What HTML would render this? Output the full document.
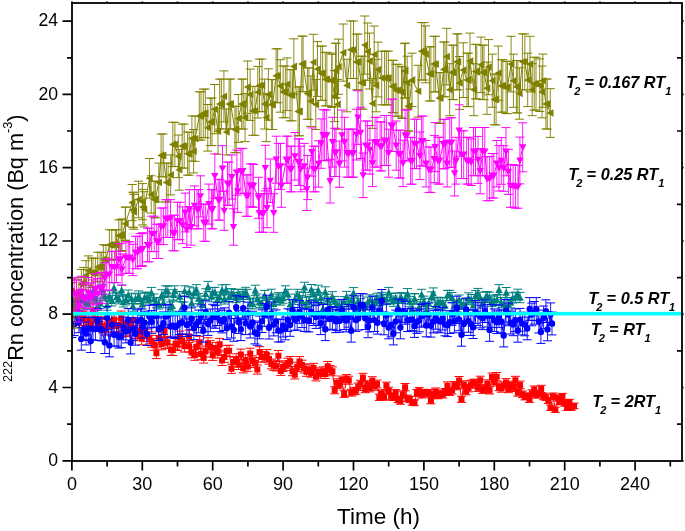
<!DOCTYPE html>
<html><head><meta charset="utf-8"><style>
html,body{margin:0;padding:0;background:#fff;width:685px;height:531px;overflow:hidden}
svg{display:block;will-change:transform;filter:blur(0.35px)}
</style></head><body>
<svg width="685" height="531" viewBox="0 0 685 531">
<rect width="685" height="531" fill="#fff"/>
<defs><clipPath id="pc"><rect x="72" y="3" width="610" height="458"/></clipPath></defs>
<g clip-path="url(#pc)">
<path d="M71.9,282.7V299.6M74.2,308.1V322.6M76.6,298.9V314.3M78.9,308.0V322.6M81.3,311.3V325.5M83.6,311.0V325.2M86.0,321.5V334.8M88.3,313.0V327.0M90.7,317.3V331.0M93.0,302.9V317.9M95.4,313.4V327.4M97.7,316.9V330.6M100.1,316.9V330.6M102.4,319.4V332.8M104.8,321.8V335.1M107.1,318.6V332.2M109.4,314.3V328.3M111.8,318.6V332.1M114.1,312.5V326.6M116.5,319.1V332.6M118.8,318.3V331.9M121.2,311.0V325.2M123.5,317.2V330.8M125.9,323.6V336.7M128.2,322.7V335.9M130.6,319.7V333.1M132.9,313.0V327.1M135.3,325.7V338.5M137.6,328.1V340.7M140.0,324.0V337.0M141.8,332.6V344.8M143.5,323.4V336.5M147.0,329.1V341.6M149.3,331.7V344.0M151.7,335.3V347.2M154.0,338.7V350.3M156.4,347.8V358.6M158.7,331.9V344.1M161.6,338.1V349.8M164.5,324.6V337.6M165.8,336.8V348.6M167.5,336.3V348.1M171.0,344.2V355.3M172.8,344.4V355.5M175.6,337.5V349.2M177.5,338.9V350.5M179.8,331.1V343.4M182.2,334.6V346.6M184.4,340.6V352.0M189.1,330.1V342.6M189.1,340.6V352.0M191.6,347.0V357.8M194.9,349.8V360.3M196.3,341.1V352.5M199.6,336.3V348.1M201.0,348.6V359.3M203.7,352.8V363.1M205.4,346.1V357.0M208.0,337.8V349.5M210.1,340.6V352.0M212.7,349.9V360.4M215.9,342.4V353.7M217.4,347.2V358.0M219.7,338.4V350.1M222.1,355.5V365.5M224.4,351.9V362.3M226.8,345.4V356.4M229.1,345.3V356.3M231.5,364.2V373.4M233.8,357.2V367.0M236.2,353.8V364.0M238.5,359.9V369.5M240.9,349.1V359.8M243.2,363.6V372.9M245.6,354.8V364.9M247.9,361.9V371.3M250.2,348.2V358.9M252.6,355.9V365.9M254.9,357.8V367.6M257.3,365.0V374.1M259.6,346.7V357.6M262.0,351.7V362.1M264.3,351.7V362.1M266.7,349.6V360.2M269.0,353.9V364.1M271.4,359.2V368.9M273.7,360.8V370.3M276.1,361.5V370.9M278.4,350.5V361.0M280.8,366.4V375.4M283.1,362.2V371.6M285.4,360.9V370.4M287.8,358.2V368.0M290.1,356.5V366.5M292.5,366.7V375.7M294.8,370.4V379.0M297.2,362.2V371.5M299.5,356.6V366.6M301.9,360.2V369.7M304.2,363.8V373.0M306.6,367.4V376.3M308.9,364.8V374.0M311.3,368.5V377.2M313.6,363.3V372.6M316.0,372.5V380.9M318.3,367.9V376.7M320.7,369.7V378.3M323.0,366.8V375.7M325.3,369.8V378.5M327.7,361.5V371.0M330.0,365.6V374.6M332.4,366.9V375.8M334.7,386.8V393.8M337.1,378.8V386.6M339.4,381.3V388.8M341.8,376.1V384.2M344.1,390.7V397.4M346.5,374.6V382.8M348.8,376.2V384.2M351.2,389.3V396.1M353.5,387.9V394.9M355.9,387.3V394.3M358.2,383.1V390.5M360.5,380.3V388.0M362.9,373.3V381.7M365.2,385.5V392.7M367.6,380.7V388.3M369.9,384.7V391.9M372.3,376.7V384.7M374.6,382.8V390.3M377.0,380.1V387.8M379.3,394.0V400.4M381.7,389.9V396.6M384.0,393.9V400.3M386.4,382.1V389.6M388.7,387.2V394.2M391.1,392.9V399.3M393.4,394.2V400.5M395.7,389.6V396.4M398.1,396.5V402.6M400.4,398.2V404.2M402.8,391.1V397.8M405.1,383.5V390.8M407.5,395.2V401.4M409.8,396.5V402.6M412.2,399.4V405.2M414.5,399.9V405.7M416.9,389.5V396.3M419.2,387.4V394.3M421.6,391.5V398.1M423.9,389.4V396.2M426.3,390.0V396.8M428.6,389.4V396.2M430.9,397.8V403.8M433.3,391.6V398.1M435.6,388.0V394.9M438.0,392.3V398.8M440.3,390.1V396.8M442.7,391.4V398.0M445.0,388.5V395.3M447.4,381.9V389.4M449.7,388.5V395.4M452.1,387.0V394.0M454.4,381.6V389.2M456.8,382.4V389.8M459.1,376.5V384.6M461.5,396.3V402.4M463.8,380.8V388.4M466.1,387.9V394.8M468.5,384.5V391.8M470.8,380.6V388.3M473.2,379.2V387.0M475.5,379.4V387.2M477.9,384.1V391.4M480.2,376.2V384.3M482.6,386.3V393.4M484.9,385.2V392.4M487.3,379.9V387.6M489.6,386.9V394.0M492.0,373.0V381.3M494.3,378.0V385.9M496.7,372.5V380.9M499.0,383.2V390.6M501.3,385.0V392.2M503.7,381.8V389.3M506.0,378.6V386.4M508.4,385.5V392.7M510.7,381.2V388.7M513.1,384.2V391.5M515.4,376.3V384.3M517.8,389.4V396.2M520.1,381.1V388.7M522.5,391.0V397.6M524.8,393.5V399.9M527.2,392.9V399.3M529.5,396.2V402.4M531.9,389.8V396.6M534.2,386.0V393.1M536.5,391.6V398.2M538.9,390.1V396.8M541.2,385.3V392.5M543.6,393.2V399.7M545.9,394.2V400.6M548.3,397.4V403.4M550.6,405.1V410.4M553.0,393.0V399.4M555.3,407.1V412.3M557.7,394.8V401.1M560.0,399.0V404.8M562.4,393.4V399.8M564.7,400.4V406.2M567.1,405.1V410.4M569.4,399.3V405.2M571.7,404.9V410.2M574.1,403.1V408.6" stroke="#FF0000" stroke-width="0.9" fill="none"/>
<path d="M67.4,282.7h9.0M67.4,299.6h9.0M69.7,308.1h9.0M69.7,322.6h9.0M72.1,298.9h9.0M72.1,314.3h9.0M74.4,308.0h9.0M74.4,322.6h9.0M76.8,311.3h9.0M76.8,325.5h9.0M79.1,311.0h9.0M79.1,325.2h9.0M81.5,321.5h9.0M81.5,334.8h9.0M83.8,313.0h9.0M83.8,327.0h9.0M86.2,317.3h9.0M86.2,331.0h9.0M88.5,302.9h9.0M88.5,317.9h9.0M90.9,313.4h9.0M90.9,327.4h9.0M93.2,316.9h9.0M93.2,330.6h9.0M95.6,316.9h9.0M95.6,330.6h9.0M97.9,319.4h9.0M97.9,332.8h9.0M100.3,321.8h9.0M100.3,335.1h9.0M102.6,318.6h9.0M102.6,332.2h9.0M104.9,314.3h9.0M104.9,328.3h9.0M107.3,318.6h9.0M107.3,332.1h9.0M109.6,312.5h9.0M109.6,326.6h9.0M112.0,319.1h9.0M112.0,332.6h9.0M114.3,318.3h9.0M114.3,331.9h9.0M116.7,311.0h9.0M116.7,325.2h9.0M119.0,317.2h9.0M119.0,330.8h9.0M121.4,323.6h9.0M121.4,336.7h9.0M123.7,322.7h9.0M123.7,335.9h9.0M126.1,319.7h9.0M126.1,333.1h9.0M128.4,313.0h9.0M128.4,327.1h9.0M130.8,325.7h9.0M130.8,338.5h9.0M133.1,328.1h9.0M133.1,340.7h9.0M135.5,324.0h9.0M135.5,337.0h9.0M137.3,332.6h9.0M137.3,344.8h9.0M139.0,323.4h9.0M139.0,336.5h9.0M142.5,329.1h9.0M142.5,341.6h9.0M144.8,331.7h9.0M144.8,344.0h9.0M147.2,335.3h9.0M147.2,347.2h9.0M149.5,338.7h9.0M149.5,350.3h9.0M151.9,347.8h9.0M151.9,358.6h9.0M154.2,331.9h9.0M154.2,344.1h9.0M157.1,338.1h9.0M157.1,349.8h9.0M160.0,324.6h9.0M160.0,337.6h9.0M161.3,336.8h9.0M161.3,348.6h9.0M163.0,336.3h9.0M163.0,348.1h9.0M166.5,344.2h9.0M166.5,355.3h9.0M168.3,344.4h9.0M168.3,355.5h9.0M171.1,337.5h9.0M171.1,349.2h9.0M173.0,338.9h9.0M173.0,350.5h9.0M175.3,331.1h9.0M175.3,343.4h9.0M177.7,334.6h9.0M177.7,346.6h9.0M179.9,340.6h9.0M179.9,352.0h9.0M184.6,330.1h9.0M184.6,342.6h9.0M184.6,340.6h9.0M184.6,352.0h9.0M187.1,347.0h9.0M187.1,357.8h9.0M190.4,349.8h9.0M190.4,360.3h9.0M191.8,341.1h9.0M191.8,352.5h9.0M195.1,336.3h9.0M195.1,348.1h9.0M196.5,348.6h9.0M196.5,359.3h9.0M199.2,352.8h9.0M199.2,363.1h9.0M200.9,346.1h9.0M200.9,357.0h9.0M203.5,337.8h9.0M203.5,349.5h9.0M205.6,340.6h9.0M205.6,352.0h9.0M208.2,349.9h9.0M208.2,360.4h9.0M211.4,342.4h9.0M211.4,353.7h9.0M212.9,347.2h9.0M212.9,358.0h9.0M215.2,338.4h9.0M215.2,350.1h9.0M217.6,355.5h9.0M217.6,365.5h9.0M219.9,351.9h9.0M219.9,362.3h9.0M222.3,345.4h9.0M222.3,356.4h9.0M224.6,345.3h9.0M224.6,356.3h9.0M227.0,364.2h9.0M227.0,373.4h9.0M229.3,357.2h9.0M229.3,367.0h9.0M231.7,353.8h9.0M231.7,364.0h9.0M234.0,359.9h9.0M234.0,369.5h9.0M236.4,349.1h9.0M236.4,359.8h9.0M238.7,363.6h9.0M238.7,372.9h9.0M241.1,354.8h9.0M241.1,364.9h9.0M243.4,361.9h9.0M243.4,371.3h9.0M245.7,348.2h9.0M245.7,358.9h9.0M248.1,355.9h9.0M248.1,365.9h9.0M250.4,357.8h9.0M250.4,367.6h9.0M252.8,365.0h9.0M252.8,374.1h9.0M255.1,346.7h9.0M255.1,357.6h9.0M257.5,351.7h9.0M257.5,362.1h9.0M259.8,351.7h9.0M259.8,362.1h9.0M262.2,349.6h9.0M262.2,360.2h9.0M264.5,353.9h9.0M264.5,364.1h9.0M266.9,359.2h9.0M266.9,368.9h9.0M269.2,360.8h9.0M269.2,370.3h9.0M271.6,361.5h9.0M271.6,370.9h9.0M273.9,350.5h9.0M273.9,361.0h9.0M276.3,366.4h9.0M276.3,375.4h9.0M278.6,362.2h9.0M278.6,371.6h9.0M280.9,360.9h9.0M280.9,370.4h9.0M283.3,358.2h9.0M283.3,368.0h9.0M285.6,356.5h9.0M285.6,366.5h9.0M288.0,366.7h9.0M288.0,375.7h9.0M290.3,370.4h9.0M290.3,379.0h9.0M292.7,362.2h9.0M292.7,371.5h9.0M295.0,356.6h9.0M295.0,366.6h9.0M297.4,360.2h9.0M297.4,369.7h9.0M299.7,363.8h9.0M299.7,373.0h9.0M302.1,367.4h9.0M302.1,376.3h9.0M304.4,364.8h9.0M304.4,374.0h9.0M306.8,368.5h9.0M306.8,377.2h9.0M309.1,363.3h9.0M309.1,372.6h9.0M311.5,372.5h9.0M311.5,380.9h9.0M313.8,367.9h9.0M313.8,376.7h9.0M316.2,369.7h9.0M316.2,378.3h9.0M318.5,366.8h9.0M318.5,375.7h9.0M320.8,369.8h9.0M320.8,378.5h9.0M323.2,361.5h9.0M323.2,371.0h9.0M325.5,365.6h9.0M325.5,374.6h9.0M327.9,366.9h9.0M327.9,375.8h9.0M330.2,386.8h9.0M330.2,393.8h9.0M332.6,378.8h9.0M332.6,386.6h9.0M334.9,381.3h9.0M334.9,388.8h9.0M337.3,376.1h9.0M337.3,384.2h9.0M339.6,390.7h9.0M339.6,397.4h9.0M342.0,374.6h9.0M342.0,382.8h9.0M344.3,376.2h9.0M344.3,384.2h9.0M346.7,389.3h9.0M346.7,396.1h9.0M349.0,387.9h9.0M349.0,394.9h9.0M351.4,387.3h9.0M351.4,394.3h9.0M353.7,383.1h9.0M353.7,390.5h9.0M356.0,380.3h9.0M356.0,388.0h9.0M358.4,373.3h9.0M358.4,381.7h9.0M360.7,385.5h9.0M360.7,392.7h9.0M363.1,380.7h9.0M363.1,388.3h9.0M365.4,384.7h9.0M365.4,391.9h9.0M367.8,376.7h9.0M367.8,384.7h9.0M370.1,382.8h9.0M370.1,390.3h9.0M372.5,380.1h9.0M372.5,387.8h9.0M374.8,394.0h9.0M374.8,400.4h9.0M377.2,389.9h9.0M377.2,396.6h9.0M379.5,393.9h9.0M379.5,400.3h9.0M381.9,382.1h9.0M381.9,389.6h9.0M384.2,387.2h9.0M384.2,394.2h9.0M386.6,392.9h9.0M386.6,399.3h9.0M388.9,394.2h9.0M388.9,400.5h9.0M391.2,389.6h9.0M391.2,396.4h9.0M393.6,396.5h9.0M393.6,402.6h9.0M395.9,398.2h9.0M395.9,404.2h9.0M398.3,391.1h9.0M398.3,397.8h9.0M400.6,383.5h9.0M400.6,390.8h9.0M403.0,395.2h9.0M403.0,401.4h9.0M405.3,396.5h9.0M405.3,402.6h9.0M407.7,399.4h9.0M407.7,405.2h9.0M410.0,399.9h9.0M410.0,405.7h9.0M412.4,389.5h9.0M412.4,396.3h9.0M414.7,387.4h9.0M414.7,394.3h9.0M417.1,391.5h9.0M417.1,398.1h9.0M419.4,389.4h9.0M419.4,396.2h9.0M421.8,390.0h9.0M421.8,396.8h9.0M424.1,389.4h9.0M424.1,396.2h9.0M426.4,397.8h9.0M426.4,403.8h9.0M428.8,391.6h9.0M428.8,398.1h9.0M431.1,388.0h9.0M431.1,394.9h9.0M433.5,392.3h9.0M433.5,398.8h9.0M435.8,390.1h9.0M435.8,396.8h9.0M438.2,391.4h9.0M438.2,398.0h9.0M440.5,388.5h9.0M440.5,395.3h9.0M442.9,381.9h9.0M442.9,389.4h9.0M445.2,388.5h9.0M445.2,395.4h9.0M447.6,387.0h9.0M447.6,394.0h9.0M449.9,381.6h9.0M449.9,389.2h9.0M452.3,382.4h9.0M452.3,389.8h9.0M454.6,376.5h9.0M454.6,384.6h9.0M457.0,396.3h9.0M457.0,402.4h9.0M459.3,380.8h9.0M459.3,388.4h9.0M461.6,387.9h9.0M461.6,394.8h9.0M464.0,384.5h9.0M464.0,391.8h9.0M466.3,380.6h9.0M466.3,388.3h9.0M468.7,379.2h9.0M468.7,387.0h9.0M471.0,379.4h9.0M471.0,387.2h9.0M473.4,384.1h9.0M473.4,391.4h9.0M475.7,376.2h9.0M475.7,384.3h9.0M478.1,386.3h9.0M478.1,393.4h9.0M480.4,385.2h9.0M480.4,392.4h9.0M482.8,379.9h9.0M482.8,387.6h9.0M485.1,386.9h9.0M485.1,394.0h9.0M487.5,373.0h9.0M487.5,381.3h9.0M489.8,378.0h9.0M489.8,385.9h9.0M492.2,372.5h9.0M492.2,380.9h9.0M494.5,383.2h9.0M494.5,390.6h9.0M496.8,385.0h9.0M496.8,392.2h9.0M499.2,381.8h9.0M499.2,389.3h9.0M501.5,378.6h9.0M501.5,386.4h9.0M503.9,385.5h9.0M503.9,392.7h9.0M506.2,381.2h9.0M506.2,388.7h9.0M508.6,384.2h9.0M508.6,391.5h9.0M510.9,376.3h9.0M510.9,384.3h9.0M513.3,389.4h9.0M513.3,396.2h9.0M515.6,381.1h9.0M515.6,388.7h9.0M518.0,391.0h9.0M518.0,397.6h9.0M520.3,393.5h9.0M520.3,399.9h9.0M522.7,392.9h9.0M522.7,399.3h9.0M525.0,396.2h9.0M525.0,402.4h9.0M527.4,389.8h9.0M527.4,396.6h9.0M529.7,386.0h9.0M529.7,393.1h9.0M532.0,391.6h9.0M532.0,398.2h9.0M534.4,390.1h9.0M534.4,396.8h9.0M536.7,385.3h9.0M536.7,392.5h9.0M539.1,393.2h9.0M539.1,399.7h9.0M541.4,394.2h9.0M541.4,400.6h9.0M543.8,397.4h9.0M543.8,403.4h9.0M546.1,405.1h9.0M546.1,410.4h9.0M548.5,393.0h9.0M548.5,399.4h9.0M550.8,407.1h9.0M550.8,412.3h9.0M553.2,394.8h9.0M553.2,401.1h9.0M555.5,399.0h9.0M555.5,404.8h9.0M557.9,393.4h9.0M557.9,399.8h9.0M560.2,400.4h9.0M560.2,406.2h9.0M562.6,405.1h9.0M562.6,410.4h9.0M564.9,399.3h9.0M564.9,405.2h9.0M567.2,404.9h9.0M567.2,410.2h9.0M569.6,403.1h9.0M569.6,408.6h9.0" stroke="#FF0000" stroke-width="1" fill="none"/>
<path d="M71.9,291.2L74.2,315.3L76.6,306.6L78.9,315.3L81.3,318.4L83.6,318.1L86.0,328.2L88.3,320.0L90.7,324.2L93.0,310.4L95.4,320.4L97.7,323.7L100.1,323.7L102.4,326.1L104.8,328.4L107.1,325.4L109.4,321.3L111.8,325.4L114.1,319.6L116.5,325.9L118.8,325.1L121.2,318.1L123.5,324.0L125.9,330.2L128.2,329.3L130.6,326.4L132.9,320.0L135.3,332.1L137.6,334.4L140.0,330.5L141.8,338.7L143.5,329.9L147.0,335.4L149.3,337.8L151.7,341.3L154.0,344.5L156.4,353.2L158.7,338.0L161.6,343.9L164.5,331.1L165.8,342.7L167.5,342.2L171.0,349.8L172.8,350.0L175.6,343.4L177.5,344.7L179.8,337.3L182.2,340.6L184.4,346.3L189.1,336.4L189.1,346.3L191.6,352.4L194.9,355.0L196.3,346.8L199.6,342.2L201.0,354.0L203.7,358.0L205.4,351.5L208.0,343.7L210.1,346.3L212.7,355.2L215.9,348.0L217.4,352.6L219.7,344.2L222.1,360.5L224.4,357.1L226.8,350.9L229.1,350.8L231.5,368.8L233.8,362.1L236.2,358.9L238.5,364.7L240.9,354.4L243.2,368.3L245.6,359.9L247.9,366.6L250.2,353.6L252.6,360.9L254.9,362.7L257.3,369.6L259.6,352.1L262.0,356.9L264.3,356.9L266.7,354.9L269.0,359.0L271.4,364.1L273.7,365.5L276.1,366.2L278.4,355.7L280.8,370.9L283.1,366.9L285.4,365.7L287.8,363.1L290.1,361.5L292.5,371.2L294.8,374.7L297.2,366.8L299.5,361.6L301.9,365.0L304.2,368.4L306.6,371.8L308.9,369.4L311.3,372.9L313.6,368.0L316.0,376.7L318.3,372.3L320.7,374.0L323.0,371.2L325.3,374.1L327.7,366.3L330.0,370.1L332.4,371.3L334.7,390.3L337.1,382.7L339.4,385.0L341.8,380.1L344.1,394.1L346.5,378.7L348.8,380.2L351.2,392.7L353.5,391.4L355.9,390.8L358.2,386.8L360.5,384.1L362.9,377.5L365.2,389.1L367.6,384.5L369.9,388.3L372.3,380.7L374.6,386.6L377.0,384.0L379.3,397.2L381.7,393.3L384.0,397.1L386.4,385.8L388.7,390.7L391.1,396.1L393.4,397.3L395.7,393.0L398.1,399.6L400.4,401.2L402.8,394.5L405.1,387.2L407.5,398.3L409.8,399.5L412.2,402.3L414.5,402.8L416.9,392.9L419.2,390.9L421.6,394.8L423.9,392.8L426.3,393.4L428.6,392.8L430.9,400.8L433.3,394.8L435.6,391.4L438.0,395.5L440.3,393.5L442.7,394.7L445.0,391.9L447.4,385.7L449.7,392.0L452.1,390.5L454.4,385.4L456.8,386.1L459.1,380.5L461.5,399.3L463.8,384.6L466.1,391.4L468.5,388.1L470.8,384.5L473.2,383.1L475.5,383.3L477.9,387.8L480.2,380.2L482.6,389.8L484.9,388.8L487.3,383.8L489.6,390.5L492.0,377.1L494.3,381.9L496.7,376.7L499.0,386.9L501.3,388.6L503.7,385.6L506.0,382.5L508.4,389.1L510.7,384.9L513.1,387.8L515.4,380.3L517.8,392.8L520.1,384.9L522.5,394.3L524.8,396.7L527.2,396.1L529.5,399.3L531.9,393.2L534.2,389.6L536.5,394.9L538.9,393.5L541.2,388.9L543.6,396.4L545.9,397.4L548.3,400.4L550.6,407.8L553.0,396.2L555.3,409.7L557.7,397.9L560.0,401.9L562.4,396.6L564.7,403.3L567.1,407.7L569.4,402.2L571.7,407.5L574.1,405.9" stroke="#FF0000" stroke-width="1" fill="none"/>
<path d="M68.9,288.2h6.0v6.0h-6.0ZM71.2,312.3h6.0v6.0h-6.0ZM73.6,303.6h6.0v6.0h-6.0ZM75.9,312.3h6.0v6.0h-6.0ZM78.3,315.4h6.0v6.0h-6.0ZM80.6,315.1h6.0v6.0h-6.0ZM83.0,325.2h6.0v6.0h-6.0ZM85.3,317.0h6.0v6.0h-6.0ZM87.7,321.2h6.0v6.0h-6.0ZM90.0,307.4h6.0v6.0h-6.0ZM92.4,317.4h6.0v6.0h-6.0ZM94.7,320.7h6.0v6.0h-6.0ZM97.1,320.7h6.0v6.0h-6.0ZM99.4,323.1h6.0v6.0h-6.0ZM101.8,325.4h6.0v6.0h-6.0ZM104.1,322.4h6.0v6.0h-6.0ZM106.4,318.3h6.0v6.0h-6.0ZM108.8,322.4h6.0v6.0h-6.0ZM111.1,316.6h6.0v6.0h-6.0ZM113.5,322.9h6.0v6.0h-6.0ZM115.8,322.1h6.0v6.0h-6.0ZM118.2,315.1h6.0v6.0h-6.0ZM120.5,321.0h6.0v6.0h-6.0ZM122.9,327.2h6.0v6.0h-6.0ZM125.2,326.3h6.0v6.0h-6.0ZM127.6,323.4h6.0v6.0h-6.0ZM129.9,317.0h6.0v6.0h-6.0ZM132.3,329.1h6.0v6.0h-6.0ZM134.6,331.4h6.0v6.0h-6.0ZM137.0,327.5h6.0v6.0h-6.0ZM138.8,335.7h6.0v6.0h-6.0ZM140.5,326.9h6.0v6.0h-6.0ZM144.0,332.4h6.0v6.0h-6.0ZM146.3,334.8h6.0v6.0h-6.0ZM148.7,338.3h6.0v6.0h-6.0ZM151.0,341.5h6.0v6.0h-6.0ZM153.4,350.2h6.0v6.0h-6.0ZM155.7,335.0h6.0v6.0h-6.0ZM158.6,340.9h6.0v6.0h-6.0ZM161.5,328.1h6.0v6.0h-6.0ZM162.8,339.7h6.0v6.0h-6.0ZM164.5,339.2h6.0v6.0h-6.0ZM168.0,346.8h6.0v6.0h-6.0ZM169.8,347.0h6.0v6.0h-6.0ZM172.6,340.4h6.0v6.0h-6.0ZM174.5,341.7h6.0v6.0h-6.0ZM176.8,334.3h6.0v6.0h-6.0ZM179.2,337.6h6.0v6.0h-6.0ZM181.4,343.3h6.0v6.0h-6.0ZM186.1,333.4h6.0v6.0h-6.0ZM186.1,343.3h6.0v6.0h-6.0ZM188.6,349.4h6.0v6.0h-6.0ZM191.9,352.0h6.0v6.0h-6.0ZM193.3,343.8h6.0v6.0h-6.0ZM196.6,339.2h6.0v6.0h-6.0ZM198.0,351.0h6.0v6.0h-6.0ZM200.7,355.0h6.0v6.0h-6.0ZM202.4,348.5h6.0v6.0h-6.0ZM205.0,340.7h6.0v6.0h-6.0ZM207.1,343.3h6.0v6.0h-6.0ZM209.7,352.2h6.0v6.0h-6.0ZM212.9,345.0h6.0v6.0h-6.0ZM214.4,349.6h6.0v6.0h-6.0ZM216.7,341.2h6.0v6.0h-6.0ZM219.1,357.5h6.0v6.0h-6.0ZM221.4,354.1h6.0v6.0h-6.0ZM223.8,347.9h6.0v6.0h-6.0ZM226.1,347.8h6.0v6.0h-6.0ZM228.5,365.8h6.0v6.0h-6.0ZM230.8,359.1h6.0v6.0h-6.0ZM233.2,355.9h6.0v6.0h-6.0ZM235.5,361.7h6.0v6.0h-6.0ZM237.9,351.4h6.0v6.0h-6.0ZM240.2,365.3h6.0v6.0h-6.0ZM242.6,356.9h6.0v6.0h-6.0ZM244.9,363.6h6.0v6.0h-6.0ZM247.2,350.6h6.0v6.0h-6.0ZM249.6,357.9h6.0v6.0h-6.0ZM251.9,359.7h6.0v6.0h-6.0ZM254.3,366.6h6.0v6.0h-6.0ZM256.6,349.1h6.0v6.0h-6.0ZM259.0,353.9h6.0v6.0h-6.0ZM261.3,353.9h6.0v6.0h-6.0ZM263.7,351.9h6.0v6.0h-6.0ZM266.0,356.0h6.0v6.0h-6.0ZM268.4,361.1h6.0v6.0h-6.0ZM270.7,362.5h6.0v6.0h-6.0ZM273.1,363.2h6.0v6.0h-6.0ZM275.4,352.7h6.0v6.0h-6.0ZM277.8,367.9h6.0v6.0h-6.0ZM280.1,363.9h6.0v6.0h-6.0ZM282.4,362.7h6.0v6.0h-6.0ZM284.8,360.1h6.0v6.0h-6.0ZM287.1,358.5h6.0v6.0h-6.0ZM289.5,368.2h6.0v6.0h-6.0ZM291.8,371.7h6.0v6.0h-6.0ZM294.2,363.8h6.0v6.0h-6.0ZM296.5,358.6h6.0v6.0h-6.0ZM298.9,362.0h6.0v6.0h-6.0ZM301.2,365.4h6.0v6.0h-6.0ZM303.6,368.8h6.0v6.0h-6.0ZM305.9,366.4h6.0v6.0h-6.0ZM308.3,369.9h6.0v6.0h-6.0ZM310.6,365.0h6.0v6.0h-6.0ZM313.0,373.7h6.0v6.0h-6.0ZM315.3,369.3h6.0v6.0h-6.0ZM317.7,371.0h6.0v6.0h-6.0ZM320.0,368.2h6.0v6.0h-6.0ZM322.3,371.1h6.0v6.0h-6.0ZM324.7,363.3h6.0v6.0h-6.0ZM327.0,367.1h6.0v6.0h-6.0ZM329.4,368.3h6.0v6.0h-6.0ZM331.7,387.3h6.0v6.0h-6.0ZM334.1,379.7h6.0v6.0h-6.0ZM336.4,382.0h6.0v6.0h-6.0ZM338.8,377.1h6.0v6.0h-6.0ZM341.1,391.1h6.0v6.0h-6.0ZM343.5,375.7h6.0v6.0h-6.0ZM345.8,377.2h6.0v6.0h-6.0ZM348.2,389.7h6.0v6.0h-6.0ZM350.5,388.4h6.0v6.0h-6.0ZM352.9,387.8h6.0v6.0h-6.0ZM355.2,383.8h6.0v6.0h-6.0ZM357.5,381.1h6.0v6.0h-6.0ZM359.9,374.5h6.0v6.0h-6.0ZM362.2,386.1h6.0v6.0h-6.0ZM364.6,381.5h6.0v6.0h-6.0ZM366.9,385.3h6.0v6.0h-6.0ZM369.3,377.7h6.0v6.0h-6.0ZM371.6,383.6h6.0v6.0h-6.0ZM374.0,381.0h6.0v6.0h-6.0ZM376.3,394.2h6.0v6.0h-6.0ZM378.7,390.3h6.0v6.0h-6.0ZM381.0,394.1h6.0v6.0h-6.0ZM383.4,382.8h6.0v6.0h-6.0ZM385.7,387.7h6.0v6.0h-6.0ZM388.1,393.1h6.0v6.0h-6.0ZM390.4,394.3h6.0v6.0h-6.0ZM392.7,390.0h6.0v6.0h-6.0ZM395.1,396.6h6.0v6.0h-6.0ZM397.4,398.2h6.0v6.0h-6.0ZM399.8,391.5h6.0v6.0h-6.0ZM402.1,384.2h6.0v6.0h-6.0ZM404.5,395.3h6.0v6.0h-6.0ZM406.8,396.5h6.0v6.0h-6.0ZM409.2,399.3h6.0v6.0h-6.0ZM411.5,399.8h6.0v6.0h-6.0ZM413.9,389.9h6.0v6.0h-6.0ZM416.2,387.9h6.0v6.0h-6.0ZM418.6,391.8h6.0v6.0h-6.0ZM420.9,389.8h6.0v6.0h-6.0ZM423.3,390.4h6.0v6.0h-6.0ZM425.6,389.8h6.0v6.0h-6.0ZM427.9,397.8h6.0v6.0h-6.0ZM430.3,391.8h6.0v6.0h-6.0ZM432.6,388.4h6.0v6.0h-6.0ZM435.0,392.5h6.0v6.0h-6.0ZM437.3,390.5h6.0v6.0h-6.0ZM439.7,391.7h6.0v6.0h-6.0ZM442.0,388.9h6.0v6.0h-6.0ZM444.4,382.7h6.0v6.0h-6.0ZM446.7,389.0h6.0v6.0h-6.0ZM449.1,387.5h6.0v6.0h-6.0ZM451.4,382.4h6.0v6.0h-6.0ZM453.8,383.1h6.0v6.0h-6.0ZM456.1,377.5h6.0v6.0h-6.0ZM458.5,396.3h6.0v6.0h-6.0ZM460.8,381.6h6.0v6.0h-6.0ZM463.1,388.4h6.0v6.0h-6.0ZM465.5,385.1h6.0v6.0h-6.0ZM467.8,381.5h6.0v6.0h-6.0ZM470.2,380.1h6.0v6.0h-6.0ZM472.5,380.3h6.0v6.0h-6.0ZM474.9,384.8h6.0v6.0h-6.0ZM477.2,377.2h6.0v6.0h-6.0ZM479.6,386.8h6.0v6.0h-6.0ZM481.9,385.8h6.0v6.0h-6.0ZM484.3,380.8h6.0v6.0h-6.0ZM486.6,387.5h6.0v6.0h-6.0ZM489.0,374.1h6.0v6.0h-6.0ZM491.3,378.9h6.0v6.0h-6.0ZM493.7,373.7h6.0v6.0h-6.0ZM496.0,383.9h6.0v6.0h-6.0ZM498.3,385.6h6.0v6.0h-6.0ZM500.7,382.6h6.0v6.0h-6.0ZM503.0,379.5h6.0v6.0h-6.0ZM505.4,386.1h6.0v6.0h-6.0ZM507.7,381.9h6.0v6.0h-6.0ZM510.1,384.8h6.0v6.0h-6.0ZM512.4,377.3h6.0v6.0h-6.0ZM514.8,389.8h6.0v6.0h-6.0ZM517.1,381.9h6.0v6.0h-6.0ZM519.5,391.3h6.0v6.0h-6.0ZM521.8,393.7h6.0v6.0h-6.0ZM524.2,393.1h6.0v6.0h-6.0ZM526.5,396.3h6.0v6.0h-6.0ZM528.9,390.2h6.0v6.0h-6.0ZM531.2,386.6h6.0v6.0h-6.0ZM533.5,391.9h6.0v6.0h-6.0ZM535.9,390.5h6.0v6.0h-6.0ZM538.2,385.9h6.0v6.0h-6.0ZM540.6,393.4h6.0v6.0h-6.0ZM542.9,394.4h6.0v6.0h-6.0ZM545.3,397.4h6.0v6.0h-6.0ZM547.6,404.8h6.0v6.0h-6.0ZM550.0,393.2h6.0v6.0h-6.0ZM552.3,406.7h6.0v6.0h-6.0ZM554.7,394.9h6.0v6.0h-6.0ZM557.0,398.9h6.0v6.0h-6.0ZM559.4,393.6h6.0v6.0h-6.0ZM561.7,400.3h6.0v6.0h-6.0ZM564.1,404.7h6.0v6.0h-6.0ZM566.4,399.2h6.0v6.0h-6.0ZM568.7,404.5h6.0v6.0h-6.0ZM571.1,402.9h6.0v6.0h-6.0Z" fill="#FF0000"/>
<path d="M71.9,300.4V310.7M74.2,302.9V313.2M76.6,297.2V307.5M78.9,293.6V303.8M81.3,289.7V300.0M83.6,294.8V305.1M86.0,298.0V308.3M88.3,299.0V309.3M90.7,291.0V301.2M93.0,286.3V296.5M95.4,293.1V303.3M97.7,300.1V310.4M100.1,298.0V308.3M102.4,284.2V294.4M104.8,290.7V300.9M107.1,299.9V310.2M109.4,290.8V301.0M111.8,295.6V305.9M114.0,282.7V293.0M116.5,292.0V302.2M118.8,293.7V303.9M121.6,285.1V295.3M123.4,296.7V307.0M125.9,294.6V304.9M128.2,290.0V300.3M131.5,293.2V303.5M132.9,301.0V311.2M135.3,293.8V304.1M138.6,290.9V301.2M140.0,293.3V303.5M142.3,298.9V309.2M144.6,292.1V302.4M147.0,292.4V302.6M149.3,293.7V304.0M151.4,287.4V297.7M154.0,294.0V304.3M156.4,297.5V307.8M158.7,298.8V309.1M161.9,289.7V300.0M163.4,297.5V307.7M165.8,285.7V296.0M167.8,286.2V296.5M170.5,302.0V312.2M172.3,300.9V311.1M173.6,289.7V300.0M174.7,285.8V296.0M179.8,291.5V301.7M182.2,301.9V312.2M184.0,302.1V312.3M184.6,285.8V296.0M189.2,286.8V297.0M191.6,297.8V308.0M193.9,287.9V298.2M196.3,284.6V294.8M198.6,293.4V303.7M201.0,296.0V306.3M202.7,299.8V310.0M205.7,288.8V299.1M208.0,281.4V291.7M211.5,291.6V301.8M212.7,287.4V297.6M215.0,287.4V297.7M217.4,294.8V305.1M219.7,292.1V302.3M222.1,284.8V295.0M224.4,293.7V304.0M226.1,284.6V294.8M229.1,291.8V302.1M231.5,288.6V298.8M233.7,289.3V299.5M236.2,292.5V302.7M238.3,289.3V299.5M240.9,291.3V301.5M243.0,289.3V299.5M245.6,287.3V297.6M247.1,289.3V299.5M250.2,298.1V308.4M252.6,298.6V308.9M255.3,285.2V295.4M257.3,294.0V304.2M259.6,297.1V307.4M262.0,298.0V308.3M264.6,290.4V300.6M266.7,297.7V308.0M269.0,298.9V309.1M271.4,289.2V299.5M273.7,298.6V308.8M276.1,294.1V304.4M278.4,292.6V302.8M280.8,294.9V305.1M283.1,292.9V303.2M285.4,285.8V296.1M288.0,289.3V299.5M290.1,299.4V309.6M292.5,302.4V312.7M294.8,294.1V304.4M297.3,289.3V299.5M299.5,291.9V302.2M301.9,295.7V306.0M304.5,282.2V292.4M306.6,297.2V307.5M308.9,296.5V306.7M311.3,284.5V294.7M313.7,289.3V299.5M316.0,294.1V304.4M318.3,285.2V295.4M320.7,292.7V303.0M323.0,303.5V313.8M325.3,286.8V297.1M327.7,294.2V304.5M330.0,301.1V311.4M332.4,291.7V302.0M334.7,296.4V306.6M337.1,299.7V310.0M339.4,299.9V310.2M341.8,301.8V312.1M344.1,296.6V306.8M346.5,291.4V301.7M348.8,298.7V308.9M351.6,295.1V305.3M353.5,287.6V297.8M355.9,303.4V313.7M358.2,295.8V306.1M360.5,298.7V308.9M362.9,302.5V312.8M365.2,302.3V312.6M367.6,297.1V307.4M369.9,294.8V305.0M372.3,299.7V309.9M374.6,296.6V306.9M377.0,293.2V303.5M379.3,295.3V305.6M381.7,292.4V302.6M384.0,294.4V304.7M386.4,294.3V304.5M388.7,287.4V297.6M391.1,293.5V303.8M393.4,296.0V306.3M395.7,293.0V303.3M398.1,301.3V311.6M400.1,292.8V303.0M401.5,292.9V303.1M405.1,293.3V303.6M407.5,288.6V298.8M409.8,296.4V306.7M412.2,303.9V314.2M414.5,293.5V303.7M414.7,293.9V304.1M419.2,301.8V312.0M421.6,289.3V299.5M423.9,296.1V306.4M426.3,305.5V315.8M428.6,298.4V308.6M431.4,291.9V302.1M433.3,287.9V298.2M435.6,300.1V310.4M438.0,297.3V307.6M440.3,297.4V307.6M442.7,297.9V308.1M445.0,300.6V310.8M447.4,290.4V300.6M449.7,290.3V300.5M452.1,292.5V302.8M454.4,300.4V310.7M456.8,301.5V311.8M459.1,295.0V305.2M461.5,299.2V309.4M463.8,298.7V309.0M466.1,304.1V314.3M468.4,292.8V303.0M471.2,294.5V304.7M473.2,300.3V310.6M475.5,290.6V300.9M477.9,288.4V298.6M480.1,292.2V302.4M482.6,298.0V308.2M485.9,291.6V301.8M487.3,291.7V302.0M489.3,292.2V302.4M492.0,296.2V306.4M494.3,295.2V305.5M496.9,294.5V304.7M499.0,284.6V294.8M501.3,297.5V307.8M503.7,299.5V309.8M506.2,287.5V297.7M508.4,299.7V310.0M510.7,297.6V307.8M512.6,292.8V303.0M515.4,292.1V302.3M517.8,289.2V299.5M520.1,292.4V302.7" stroke="#008080" stroke-width="0.9" fill="none"/>
<path d="M67.4,300.4h9.0M67.4,310.7h9.0M69.7,302.9h9.0M69.7,313.2h9.0M72.1,297.2h9.0M72.1,307.5h9.0M74.4,293.6h9.0M74.4,303.8h9.0M76.8,289.7h9.0M76.8,300.0h9.0M79.1,294.8h9.0M79.1,305.1h9.0M81.5,298.0h9.0M81.5,308.3h9.0M83.8,299.0h9.0M83.8,309.3h9.0M86.2,291.0h9.0M86.2,301.2h9.0M88.5,286.3h9.0M88.5,296.5h9.0M90.9,293.1h9.0M90.9,303.3h9.0M93.2,300.1h9.0M93.2,310.4h9.0M95.6,298.0h9.0M95.6,308.3h9.0M97.9,284.2h9.0M97.9,294.4h9.0M100.3,290.7h9.0M100.3,300.9h9.0M102.6,299.9h9.0M102.6,310.2h9.0M104.9,290.8h9.0M104.9,301.0h9.0M107.3,295.6h9.0M107.3,305.9h9.0M109.5,282.7h9.0M109.5,293.0h9.0M112.0,292.0h9.0M112.0,302.2h9.0M114.3,293.7h9.0M114.3,303.9h9.0M117.1,285.1h9.0M117.1,295.3h9.0M118.9,296.7h9.0M118.9,307.0h9.0M121.4,294.6h9.0M121.4,304.9h9.0M123.7,290.0h9.0M123.7,300.3h9.0M127.0,293.2h9.0M127.0,303.5h9.0M128.4,301.0h9.0M128.4,311.2h9.0M130.8,293.8h9.0M130.8,304.1h9.0M134.1,290.9h9.0M134.1,301.2h9.0M135.5,293.3h9.0M135.5,303.5h9.0M137.8,298.9h9.0M137.8,309.2h9.0M140.1,292.1h9.0M140.1,302.4h9.0M142.5,292.4h9.0M142.5,302.6h9.0M144.8,293.7h9.0M144.8,304.0h9.0M146.9,287.4h9.0M146.9,297.7h9.0M149.5,294.0h9.0M149.5,304.3h9.0M151.9,297.5h9.0M151.9,307.8h9.0M154.2,298.8h9.0M154.2,309.1h9.0M157.4,289.7h9.0M157.4,300.0h9.0M158.9,297.5h9.0M158.9,307.7h9.0M161.3,285.7h9.0M161.3,296.0h9.0M163.3,286.2h9.0M163.3,296.5h9.0M166.0,302.0h9.0M166.0,312.2h9.0M167.8,300.9h9.0M167.8,311.1h9.0M169.1,289.7h9.0M169.1,300.0h9.0M170.2,285.8h9.0M170.2,296.0h9.0M175.3,291.5h9.0M175.3,301.7h9.0M177.7,301.9h9.0M177.7,312.2h9.0M179.5,302.1h9.0M179.5,312.3h9.0M180.1,285.8h9.0M180.1,296.0h9.0M184.7,286.8h9.0M184.7,297.0h9.0M187.1,297.8h9.0M187.1,308.0h9.0M189.4,287.9h9.0M189.4,298.2h9.0M191.8,284.6h9.0M191.8,294.8h9.0M194.1,293.4h9.0M194.1,303.7h9.0M196.5,296.0h9.0M196.5,306.3h9.0M198.2,299.8h9.0M198.2,310.0h9.0M201.2,288.8h9.0M201.2,299.1h9.0M203.5,281.4h9.0M203.5,291.7h9.0M207.0,291.6h9.0M207.0,301.8h9.0M208.2,287.4h9.0M208.2,297.6h9.0M210.5,287.4h9.0M210.5,297.7h9.0M212.9,294.8h9.0M212.9,305.1h9.0M215.2,292.1h9.0M215.2,302.3h9.0M217.6,284.8h9.0M217.6,295.0h9.0M219.9,293.7h9.0M219.9,304.0h9.0M221.6,284.6h9.0M221.6,294.8h9.0M224.6,291.8h9.0M224.6,302.1h9.0M227.0,288.6h9.0M227.0,298.8h9.0M229.2,289.3h9.0M229.2,299.5h9.0M231.7,292.5h9.0M231.7,302.7h9.0M233.8,289.3h9.0M233.8,299.5h9.0M236.4,291.3h9.0M236.4,301.5h9.0M238.5,289.3h9.0M238.5,299.5h9.0M241.1,287.3h9.0M241.1,297.6h9.0M242.6,289.3h9.0M242.6,299.5h9.0M245.7,298.1h9.0M245.7,308.4h9.0M248.1,298.6h9.0M248.1,308.9h9.0M250.8,285.2h9.0M250.8,295.4h9.0M252.8,294.0h9.0M252.8,304.2h9.0M255.1,297.1h9.0M255.1,307.4h9.0M257.5,298.0h9.0M257.5,308.3h9.0M260.1,290.4h9.0M260.1,300.6h9.0M262.2,297.7h9.0M262.2,308.0h9.0M264.5,298.9h9.0M264.5,309.1h9.0M266.9,289.2h9.0M266.9,299.5h9.0M269.2,298.6h9.0M269.2,308.8h9.0M271.6,294.1h9.0M271.6,304.4h9.0M273.9,292.6h9.0M273.9,302.8h9.0M276.3,294.9h9.0M276.3,305.1h9.0M278.6,292.9h9.0M278.6,303.2h9.0M280.9,285.8h9.0M280.9,296.1h9.0M283.5,289.3h9.0M283.5,299.5h9.0M285.6,299.4h9.0M285.6,309.6h9.0M288.0,302.4h9.0M288.0,312.7h9.0M290.3,294.1h9.0M290.3,304.4h9.0M292.8,289.3h9.0M292.8,299.5h9.0M295.0,291.9h9.0M295.0,302.2h9.0M297.4,295.7h9.0M297.4,306.0h9.0M300.0,282.2h9.0M300.0,292.4h9.0M302.1,297.2h9.0M302.1,307.5h9.0M304.4,296.5h9.0M304.4,306.7h9.0M306.8,284.5h9.0M306.8,294.7h9.0M309.2,289.3h9.0M309.2,299.5h9.0M311.5,294.1h9.0M311.5,304.4h9.0M313.8,285.2h9.0M313.8,295.4h9.0M316.2,292.7h9.0M316.2,303.0h9.0M318.5,303.5h9.0M318.5,313.8h9.0M320.8,286.8h9.0M320.8,297.1h9.0M323.2,294.2h9.0M323.2,304.5h9.0M325.5,301.1h9.0M325.5,311.4h9.0M327.9,291.7h9.0M327.9,302.0h9.0M330.2,296.4h9.0M330.2,306.6h9.0M332.6,299.7h9.0M332.6,310.0h9.0M334.9,299.9h9.0M334.9,310.2h9.0M337.3,301.8h9.0M337.3,312.1h9.0M339.6,296.6h9.0M339.6,306.8h9.0M342.0,291.4h9.0M342.0,301.7h9.0M344.3,298.7h9.0M344.3,308.9h9.0M347.1,295.1h9.0M347.1,305.3h9.0M349.0,287.6h9.0M349.0,297.8h9.0M351.4,303.4h9.0M351.4,313.7h9.0M353.7,295.8h9.0M353.7,306.1h9.0M356.0,298.7h9.0M356.0,308.9h9.0M358.4,302.5h9.0M358.4,312.8h9.0M360.7,302.3h9.0M360.7,312.6h9.0M363.1,297.1h9.0M363.1,307.4h9.0M365.4,294.8h9.0M365.4,305.0h9.0M367.8,299.7h9.0M367.8,309.9h9.0M370.1,296.6h9.0M370.1,306.9h9.0M372.5,293.2h9.0M372.5,303.5h9.0M374.8,295.3h9.0M374.8,305.6h9.0M377.2,292.4h9.0M377.2,302.6h9.0M379.5,294.4h9.0M379.5,304.7h9.0M381.9,294.3h9.0M381.9,304.5h9.0M384.2,287.4h9.0M384.2,297.6h9.0M386.6,293.5h9.0M386.6,303.8h9.0M388.9,296.0h9.0M388.9,306.3h9.0M391.2,293.0h9.0M391.2,303.3h9.0M393.6,301.3h9.0M393.6,311.6h9.0M395.6,292.8h9.0M395.6,303.0h9.0M397.0,292.9h9.0M397.0,303.1h9.0M400.6,293.3h9.0M400.6,303.6h9.0M403.0,288.6h9.0M403.0,298.8h9.0M405.3,296.4h9.0M405.3,306.7h9.0M407.7,303.9h9.0M407.7,314.2h9.0M410.0,293.5h9.0M410.0,303.7h9.0M410.2,293.9h9.0M410.2,304.1h9.0M414.7,301.8h9.0M414.7,312.0h9.0M417.1,289.3h9.0M417.1,299.5h9.0M419.4,296.1h9.0M419.4,306.4h9.0M421.8,305.5h9.0M421.8,315.8h9.0M424.1,298.4h9.0M424.1,308.6h9.0M426.9,291.9h9.0M426.9,302.1h9.0M428.8,287.9h9.0M428.8,298.2h9.0M431.1,300.1h9.0M431.1,310.4h9.0M433.5,297.3h9.0M433.5,307.6h9.0M435.8,297.4h9.0M435.8,307.6h9.0M438.2,297.9h9.0M438.2,308.1h9.0M440.5,300.6h9.0M440.5,310.8h9.0M442.9,290.4h9.0M442.9,300.6h9.0M445.2,290.3h9.0M445.2,300.5h9.0M447.6,292.5h9.0M447.6,302.8h9.0M449.9,300.4h9.0M449.9,310.7h9.0M452.3,301.5h9.0M452.3,311.8h9.0M454.6,295.0h9.0M454.6,305.2h9.0M457.0,299.2h9.0M457.0,309.4h9.0M459.3,298.7h9.0M459.3,309.0h9.0M461.6,304.1h9.0M461.6,314.3h9.0M463.9,292.8h9.0M463.9,303.0h9.0M466.7,294.5h9.0M466.7,304.7h9.0M468.7,300.3h9.0M468.7,310.6h9.0M471.0,290.6h9.0M471.0,300.9h9.0M473.4,288.4h9.0M473.4,298.6h9.0M475.6,292.2h9.0M475.6,302.4h9.0M478.1,298.0h9.0M478.1,308.2h9.0M481.4,291.6h9.0M481.4,301.8h9.0M482.8,291.7h9.0M482.8,302.0h9.0M484.8,292.2h9.0M484.8,302.4h9.0M487.5,296.2h9.0M487.5,306.4h9.0M489.8,295.2h9.0M489.8,305.5h9.0M492.4,294.5h9.0M492.4,304.7h9.0M494.5,284.6h9.0M494.5,294.8h9.0M496.8,297.5h9.0M496.8,307.8h9.0M499.2,299.5h9.0M499.2,309.8h9.0M501.7,287.5h9.0M501.7,297.7h9.0M503.9,299.7h9.0M503.9,310.0h9.0M506.2,297.6h9.0M506.2,307.8h9.0M508.1,292.8h9.0M508.1,303.0h9.0M510.9,292.1h9.0M510.9,302.3h9.0M513.3,289.2h9.0M513.3,299.5h9.0M515.6,292.4h9.0M515.6,302.7h9.0" stroke="#008080" stroke-width="1" fill="none"/>
<path d="M71.9,305.5L74.2,308.0L76.6,302.3L78.9,298.7L81.3,294.9L83.6,299.9L86.0,303.2L88.3,304.2L90.7,296.1L93.0,291.4L95.4,298.2L97.7,305.2L100.1,303.1L102.4,289.3L104.8,295.8L107.1,305.0L109.4,295.9L111.8,300.7L114.0,287.9L116.5,297.1L118.8,298.8L121.6,290.2L123.4,301.9L125.9,299.7L128.2,295.1L131.5,298.4L132.9,306.1L135.3,298.9L138.6,296.0L140.0,298.4L142.3,304.1L144.6,297.3L147.0,297.5L149.3,298.8L151.4,292.5L154.0,299.2L156.4,302.7L158.7,304.0L161.9,294.9L163.4,302.6L165.8,290.8L167.8,291.4L170.5,307.1L172.3,306.0L173.6,294.9L174.7,290.9L179.8,296.6L182.2,307.0L184.0,307.2L184.6,290.9L189.2,291.9L191.6,302.9L193.9,293.1L196.3,289.7L198.6,298.5L201.0,301.1L202.7,304.9L205.7,293.9L208.0,286.6L211.5,296.7L212.7,292.5L215.0,292.5L217.4,299.9L219.7,297.2L222.1,289.9L224.4,298.9L226.1,289.7L229.1,296.9L231.5,293.7L233.7,294.4L236.2,297.6L238.3,294.4L240.9,296.4L243.0,294.4L245.6,292.4L247.1,294.4L250.2,303.3L252.6,303.7L255.3,290.3L257.3,299.1L259.6,302.3L262.0,303.2L264.6,295.5L266.7,302.8L269.0,304.0L271.4,294.4L273.7,303.7L276.1,299.3L278.4,297.7L280.8,300.0L283.1,298.0L285.4,291.0L288.0,294.4L290.1,304.5L292.5,307.5L294.8,299.3L297.3,294.4L299.5,297.0L301.9,300.9L304.5,287.3L306.6,302.4L308.9,301.6L311.3,289.6L313.7,294.4L316.0,299.3L318.3,290.3L320.7,297.9L323.0,308.7L325.3,292.0L327.7,299.4L330.0,306.2L332.4,296.9L334.7,301.5L337.1,304.8L339.4,305.0L341.8,307.0L344.1,301.7L346.5,296.6L348.8,303.8L351.6,300.2L353.5,292.7L355.9,308.5L358.2,300.9L360.5,303.8L362.9,307.6L365.2,307.4L367.6,302.2L369.9,299.9L372.3,304.8L374.6,301.8L377.0,298.3L379.3,300.5L381.7,297.5L384.0,299.6L386.4,299.4L388.7,292.5L391.1,298.6L393.4,301.1L395.7,298.1L398.1,306.5L400.1,297.9L401.5,298.0L405.1,298.4L407.5,293.7L409.8,301.5L412.2,309.1L414.5,298.6L414.7,299.0L419.2,306.9L421.6,294.4L423.9,301.2L426.3,310.7L428.6,303.5L431.4,297.0L433.3,293.1L435.6,305.2L438.0,302.4L440.3,302.5L442.7,303.0L445.0,305.7L447.4,295.5L449.7,295.4L452.1,297.7L454.4,305.6L456.8,306.7L459.1,300.1L461.5,304.3L463.8,303.9L466.1,309.2L468.4,297.9L471.2,299.6L473.2,305.5L475.5,295.8L477.9,293.5L480.1,297.3L482.6,303.1L485.9,296.7L487.3,296.9L489.3,297.3L492.0,301.3L494.3,300.4L496.9,299.6L499.0,289.7L501.3,302.6L503.7,304.6L506.2,292.6L508.4,304.8L510.7,302.7L512.6,297.9L515.4,297.2L517.8,294.3L520.1,297.6" stroke="#008080" stroke-width="1" fill="none"/>
<path d="M68.2,308.7L75.6,308.7L71.9,301.8ZM70.5,311.2L77.9,311.2L74.2,304.3ZM72.9,305.5L80.3,305.5L76.6,298.6ZM75.2,301.9L82.6,301.9L78.9,295.0ZM77.6,298.0L85.0,298.0L81.3,291.2ZM79.9,303.1L87.3,303.1L83.6,296.2ZM82.3,306.3L89.7,306.3L86.0,299.5ZM84.6,307.3L92.0,307.3L88.3,300.5ZM87.0,299.3L94.4,299.3L90.7,292.4ZM89.3,294.5L96.7,294.5L93.0,287.7ZM91.7,301.3L99.1,301.3L95.4,294.5ZM94.0,308.4L101.4,308.4L97.7,301.5ZM96.4,306.3L103.8,306.3L100.1,299.4ZM98.7,292.5L106.1,292.5L102.4,285.6ZM101.1,298.9L108.5,298.9L104.8,292.1ZM103.4,308.2L110.8,308.2L107.1,301.3ZM105.7,299.0L113.1,299.0L109.4,292.2ZM108.1,303.9L115.5,303.9L111.8,297.0ZM110.3,291.0L117.7,291.0L114.0,284.2ZM112.8,300.3L120.2,300.3L116.5,293.4ZM115.1,301.9L122.5,301.9L118.8,295.1ZM117.9,293.3L125.3,293.3L121.6,286.5ZM119.7,305.0L127.1,305.0L123.4,298.2ZM122.2,302.9L129.6,302.9L125.9,296.0ZM124.5,298.3L131.9,298.3L128.2,291.4ZM127.8,301.5L135.2,301.5L131.5,294.7ZM129.2,309.3L136.6,309.3L132.9,302.4ZM131.6,302.1L139.0,302.1L135.3,295.2ZM134.9,299.2L142.3,299.2L138.6,292.3ZM136.3,301.5L143.7,301.5L140.0,294.7ZM138.6,307.2L146.0,307.2L142.3,300.4ZM140.9,300.4L148.3,300.4L144.6,293.6ZM143.3,300.7L150.7,300.7L147.0,293.8ZM145.6,302.0L153.0,302.0L149.3,295.1ZM147.7,295.7L155.1,295.7L151.4,288.8ZM150.3,302.3L157.7,302.3L154.0,295.5ZM152.7,305.8L160.1,305.8L156.4,299.0ZM155.0,307.1L162.4,307.1L158.7,300.3ZM158.2,298.0L165.6,298.0L161.9,291.2ZM159.7,305.7L167.1,305.7L163.4,298.9ZM162.1,294.0L169.5,294.0L165.8,287.1ZM164.1,294.5L171.5,294.5L167.8,287.7ZM166.8,310.2L174.2,310.2L170.5,303.4ZM168.6,309.1L176.0,309.1L172.3,302.3ZM169.9,298.0L177.3,298.0L173.6,291.2ZM171.0,294.0L178.4,294.0L174.7,287.2ZM176.1,299.8L183.5,299.8L179.8,292.9ZM178.5,310.2L185.9,310.2L182.2,303.3ZM180.3,310.3L187.7,310.3L184.0,303.5ZM180.9,294.0L188.3,294.0L184.6,287.2ZM185.5,295.0L192.9,295.0L189.2,288.2ZM187.9,306.0L195.3,306.0L191.6,299.2ZM190.2,296.2L197.6,296.2L193.9,289.4ZM192.6,292.8L200.0,292.8L196.3,286.0ZM194.9,301.7L202.3,301.7L198.6,294.8ZM197.3,304.3L204.7,304.3L201.0,297.4ZM199.0,308.0L206.4,308.0L202.7,301.2ZM202.0,297.1L209.4,297.1L205.7,290.2ZM204.3,289.7L211.7,289.7L208.0,282.9ZM207.8,299.8L215.2,299.8L211.5,293.0ZM209.0,295.6L216.4,295.6L212.7,288.8ZM211.3,295.7L218.7,295.7L215.0,288.8ZM213.7,303.1L221.1,303.1L217.4,296.2ZM216.0,300.3L223.4,300.3L219.7,293.5ZM218.4,293.1L225.8,293.1L222.1,286.2ZM220.7,302.0L228.1,302.0L224.4,295.2ZM222.4,292.8L229.8,292.8L226.1,286.0ZM225.4,300.1L232.8,300.1L229.1,293.2ZM227.8,296.9L235.2,296.9L231.5,290.0ZM230.0,297.5L237.4,297.5L233.7,290.7ZM232.5,300.8L239.9,300.8L236.2,293.9ZM234.6,297.5L242.0,297.5L238.3,290.7ZM237.2,299.5L244.6,299.5L240.9,292.7ZM239.3,297.5L246.7,297.5L243.0,290.7ZM241.9,295.6L249.3,295.6L245.6,288.7ZM243.4,297.5L250.8,297.5L247.1,290.7ZM246.5,306.4L253.9,306.4L250.2,299.6ZM248.9,306.9L256.3,306.9L252.6,300.0ZM251.6,293.4L259.0,293.4L255.3,286.6ZM253.6,302.2L261.0,302.2L257.3,295.4ZM255.9,305.4L263.3,305.4L259.6,298.6ZM258.3,306.3L265.7,306.3L262.0,299.5ZM260.9,298.6L268.3,298.6L264.6,291.8ZM263.0,306.0L270.4,306.0L266.7,299.1ZM265.3,307.1L272.7,307.1L269.0,300.3ZM267.7,297.5L275.1,297.5L271.4,290.7ZM270.0,306.9L277.4,306.9L273.7,300.0ZM272.4,302.4L279.8,302.4L276.1,295.6ZM274.7,300.8L282.1,300.8L278.4,294.0ZM277.1,303.1L284.5,303.1L280.8,296.3ZM279.4,301.2L286.8,301.2L283.1,294.3ZM281.7,294.1L289.1,294.1L285.4,287.3ZM284.3,297.5L291.7,297.5L288.0,290.7ZM286.4,307.6L293.8,307.6L290.1,300.8ZM288.8,310.7L296.2,310.7L292.5,303.8ZM291.1,302.4L298.5,302.4L294.8,295.6ZM293.6,297.5L301.0,297.5L297.3,290.7ZM295.8,300.2L303.2,300.2L299.5,293.3ZM298.2,304.0L305.6,304.0L301.9,297.2ZM300.8,290.4L308.2,290.4L304.5,283.6ZM302.9,305.5L310.3,305.5L306.6,298.7ZM305.2,304.8L312.6,304.8L308.9,297.9ZM307.6,292.7L315.0,292.7L311.3,285.9ZM310.0,297.5L317.4,297.5L313.7,290.7ZM312.3,302.4L319.7,302.4L316.0,295.6ZM314.6,293.4L322.0,293.4L318.3,286.6ZM317.0,301.0L324.4,301.0L320.7,294.2ZM319.3,311.8L326.7,311.8L323.0,305.0ZM321.6,295.1L329.0,295.1L325.3,288.3ZM324.0,302.5L331.4,302.5L327.7,295.7ZM326.3,309.4L333.7,309.4L330.0,302.5ZM328.7,300.0L336.1,300.0L332.4,293.2ZM331.0,304.7L338.4,304.7L334.7,297.8ZM333.4,308.0L340.8,308.0L337.1,301.1ZM335.7,308.2L343.1,308.2L339.4,301.3ZM338.1,310.1L345.5,310.1L341.8,303.3ZM340.4,304.9L347.8,304.9L344.1,298.0ZM342.8,299.7L350.2,299.7L346.5,292.9ZM345.1,307.0L352.5,307.0L348.8,300.1ZM347.9,303.3L355.3,303.3L351.6,296.5ZM349.8,295.9L357.2,295.9L353.5,289.0ZM352.2,311.7L359.6,311.7L355.9,304.8ZM354.5,304.1L361.9,304.1L358.2,297.2ZM356.8,307.0L364.2,307.0L360.5,300.1ZM359.2,310.8L366.6,310.8L362.9,303.9ZM361.5,310.6L368.9,310.6L365.2,303.7ZM363.9,305.4L371.3,305.4L367.6,298.5ZM366.2,303.0L373.6,303.0L369.9,296.2ZM368.6,308.0L376.0,308.0L372.3,301.1ZM370.9,304.9L378.3,304.9L374.6,298.1ZM373.3,301.5L380.7,301.5L377.0,294.6ZM375.6,303.6L383.0,303.6L379.3,296.8ZM378.0,300.7L385.4,300.7L381.7,293.8ZM380.3,302.7L387.7,302.7L384.0,295.9ZM382.7,302.5L390.1,302.5L386.4,295.7ZM385.0,295.6L392.4,295.6L388.7,288.8ZM387.4,301.8L394.8,301.8L391.1,294.9ZM389.7,304.3L397.1,304.3L393.4,297.4ZM392.0,301.3L399.4,301.3L395.7,294.4ZM394.4,309.6L401.8,309.6L398.1,302.8ZM396.4,301.0L403.8,301.0L400.1,294.2ZM397.8,301.1L405.2,301.1L401.5,294.3ZM401.4,301.6L408.8,301.6L405.1,294.7ZM403.8,296.8L411.2,296.8L407.5,290.0ZM406.1,304.7L413.5,304.7L409.8,297.8ZM408.5,312.2L415.9,312.2L412.2,305.4ZM410.8,301.7L418.2,301.7L414.5,294.9ZM411.0,302.1L418.4,302.1L414.7,295.3ZM415.5,310.1L422.9,310.1L419.2,303.2ZM417.9,297.5L425.3,297.5L421.6,290.7ZM420.2,304.4L427.6,304.4L423.9,297.5ZM422.6,313.8L430.0,313.8L426.3,307.0ZM424.9,306.6L432.3,306.6L428.6,299.8ZM427.7,300.1L435.1,300.1L431.4,293.3ZM429.6,296.2L437.0,296.2L433.3,289.4ZM431.9,308.4L439.3,308.4L435.6,301.5ZM434.3,305.6L441.7,305.6L438.0,298.7ZM436.6,305.7L444.0,305.7L440.3,298.8ZM439.0,306.1L446.4,306.1L442.7,299.3ZM441.3,308.8L448.7,308.8L445.0,302.0ZM443.7,298.6L451.1,298.6L447.4,291.8ZM446.0,298.5L453.4,298.5L449.7,291.7ZM448.4,300.8L455.8,300.8L452.1,294.0ZM450.7,308.7L458.1,308.7L454.4,301.9ZM453.1,309.8L460.5,309.8L456.8,303.0ZM455.4,303.3L462.8,303.3L459.1,296.4ZM457.8,307.5L465.2,307.5L461.5,300.6ZM460.1,307.0L467.5,307.0L463.8,300.2ZM462.4,312.4L469.8,312.4L466.1,305.5ZM464.7,301.0L472.1,301.0L468.4,294.2ZM467.5,302.7L474.9,302.7L471.2,295.9ZM469.5,308.6L476.9,308.6L473.2,301.8ZM471.8,298.9L479.2,298.9L475.5,292.1ZM474.2,296.6L481.6,296.6L477.9,289.8ZM476.4,300.4L483.8,300.4L480.1,293.6ZM478.9,306.2L486.3,306.2L482.6,299.4ZM482.2,299.8L489.6,299.8L485.9,293.0ZM483.6,300.0L491.0,300.0L487.3,293.2ZM485.6,300.4L493.0,300.4L489.3,293.6ZM488.3,304.4L495.7,304.4L492.0,297.6ZM490.6,303.5L498.0,303.5L494.3,296.7ZM493.2,302.7L500.6,302.7L496.9,295.9ZM495.3,292.9L502.7,292.9L499.0,286.0ZM497.6,305.8L505.0,305.8L501.3,298.9ZM500.0,307.8L507.4,307.8L503.7,300.9ZM502.5,295.7L509.9,295.7L506.2,288.9ZM504.7,308.0L512.1,308.0L508.4,301.1ZM507.0,305.8L514.4,305.8L510.7,299.0ZM508.9,301.0L516.3,301.0L512.6,294.2ZM511.7,300.3L519.1,300.3L515.4,293.5ZM514.1,297.5L521.5,297.5L517.8,290.6ZM516.4,300.7L523.8,300.7L520.1,293.9Z" fill="#008080"/>
<path d="M71.9,314.7V337.5M74.2,312.9V335.6M76.6,301.6V324.3M78.9,310.0V332.7M81.3,327.5V350.2M83.6,317.6V340.3M86.0,322.2V344.9M88.3,317.2V339.9M90.7,329.8V352.5M93.0,317.2V339.9M95.4,317.6V340.3M97.7,308.6V331.3M100.1,317.7V340.5M101.8,318.2V340.9M104.8,330.8V353.5M107.1,306.7V329.4M109.4,334.1V356.8M111.8,313.2V335.9M114.1,323.3V346.1M117.0,323.4V346.1M118.8,325.3V348.0M121.2,325.0V347.7M123.5,317.2V339.9M125.9,320.1V342.9M128.2,308.6V331.3M130.6,331.2V353.9M132.9,317.4V340.1M135.3,322.5V345.2M137.6,309.8V332.5M140.9,308.2V331.0M142.3,315.4V338.1M144.6,311.2V333.9M147.0,322.7V345.5M149.3,305.3V328.0M151.7,310.6V333.3M154.0,304.6V327.3M156.4,304.6V327.3M158.7,317.9V340.6M161.1,316.3V339.0M163.4,311.9V334.6M165.8,305.0V327.7M168.1,304.3V327.0M170.5,315.2V337.9M172.8,314.4V337.2M175.2,315.8V338.5M177.5,314.3V337.0M179.8,311.9V334.6M182.2,311.1V333.8M184.5,296.3V319.0M186.9,313.7V336.5M189.2,312.2V334.9M191.6,307.0V329.7M193.9,316.8V339.6M196.3,312.8V335.5M198.6,310.1V332.8M201.0,304.8V327.5M203.3,319.4V342.1M205.7,300.7V323.4M208.0,312.7V335.4M210.4,309.0V331.7M212.7,304.3V327.0M215.0,305.6V328.3M217.4,302.7V325.5M219.7,308.9V331.6M222.1,310.2V332.9M224.4,307.8V330.5M226.8,316.9V339.6M229.1,301.4V324.2M231.5,315.2V338.0M233.8,318.6V341.3M236.2,295.8V318.5M238.5,310.7V333.4M240.9,317.9V340.6M243.2,296.7V319.4M245.6,311.9V334.6M247.9,302.1V324.8M250.2,315.3V338.0M252.6,311.2V333.9M254.9,321.1V343.9M257.3,322.6V345.3M259.6,316.1V338.8M262.0,309.8V332.5M264.3,303.6V326.4M266.7,295.2V317.9M269.0,316.3V339.0M271.4,302.0V324.8M273.7,313.2V335.9M276.1,310.0V332.8M278.4,319.2V342.0M280.8,319.2V341.9M283.1,314.3V337.0M285.4,317.1V339.8M287.8,308.8V331.5M290.1,313.6V336.3M292.5,299.9V322.7M294.8,307.5V330.3M297.2,307.4V330.1M299.5,300.6V323.3M301.9,304.9V327.6M304.2,308.7V331.4M306.6,309.0V331.7M308.9,309.2V331.9M311.3,300.8V323.5M313.6,302.8V325.5M316.0,305.6V328.4M318.3,302.6V325.3M320.7,311.9V334.6M323.0,304.5V327.2M325.3,317.8V340.6M327.7,298.6V321.3M330.0,307.3V330.0M332.4,306.6V329.3M335.8,309.9V332.6M337.1,307.8V330.6M339.4,309.5V332.2M341.8,299.4V322.1M344.1,306.8V329.6M346.1,309.2V331.9M348.8,304.5V327.2M351.2,319.4V342.1M353.5,295.9V318.7M355.9,308.7V331.4M358.2,307.2V330.0M360.5,293.7V316.4M362.9,293.7V316.4M365.2,306.9V329.6M368.0,315.0V337.7M369.4,309.2V331.9M372.3,296.1V318.8M374.6,308.8V331.5M377.4,311.4V334.1M379.3,299.4V322.2M381.8,289.5V312.2M384.0,312.1V334.8M386.4,303.9V326.6M388.7,316.0V338.8M391.1,314.2V336.9M393.4,322.2V344.9M395.7,310.1V332.8M398.1,299.0V321.7M400.4,316.1V338.8M402.8,299.8V322.6M405.1,301.5V324.2M407.5,308.9V331.6M409.8,308.6V331.3M412.2,308.0V330.7M414.5,314.6V337.4M416.9,310.6V333.4M419.2,309.1V331.8M421.6,304.5V327.2M423.9,303.3V326.0M426.3,314.1V336.8M428.6,303.2V325.9M430.9,314.4V337.1M433.3,310.2V332.9M435.6,306.5V329.2M438.0,309.3V332.0M440.3,310.0V332.8M442.7,307.3V330.0M445.0,313.1V335.8M447.4,313.8V336.6M449.7,310.8V333.5M452.1,302.7V325.4M454.4,310.1V332.8M456.8,296.2V318.9M459.1,308.0V330.7M461.5,323.5V346.2M463.8,312.6V335.4M466.1,298.0V320.7M468.5,309.6V332.3M470.8,312.7V335.5M473.2,315.8V338.5M475.5,300.6V323.3M477.9,302.8V325.6M480.2,305.2V327.9M482.6,306.9V329.6M484.9,299.9V322.6M487.3,304.3V327.0M489.6,318.6V341.3M492.0,304.7V327.4M494.3,308.9V331.6M496.7,310.9V333.6M499.0,304.9V327.6M501.3,310.0V332.7M503.7,324.2V346.9M506.0,299.5V322.2M508.4,303.1V325.8M510.7,311.2V334.0M513.1,313.0V335.7M515.4,308.9V331.6M517.8,319.5V342.2M520.1,308.4V331.1M522.5,312.2V334.9M524.8,313.1V335.8M527.2,317.1V339.8M529.7,297.6V320.4M531.9,303.1V325.8M534.2,301.5V324.2M536.3,297.6V320.4M538.9,310.1V332.9M540.9,320.6V343.4M543.6,306.0V328.7M545.9,299.8V322.5M547.5,318.0V340.8M550.6,302.9V325.6M552.0,312.1V334.9" stroke="#0000FF" stroke-width="0.9" fill="none"/>
<path d="M67.4,314.7h9.0M67.4,337.5h9.0M69.7,312.9h9.0M69.7,335.6h9.0M72.1,301.6h9.0M72.1,324.3h9.0M74.4,310.0h9.0M74.4,332.7h9.0M76.8,327.5h9.0M76.8,350.2h9.0M79.1,317.6h9.0M79.1,340.3h9.0M81.5,322.2h9.0M81.5,344.9h9.0M83.8,317.2h9.0M83.8,339.9h9.0M86.2,329.8h9.0M86.2,352.5h9.0M88.5,317.2h9.0M88.5,339.9h9.0M90.9,317.6h9.0M90.9,340.3h9.0M93.2,308.6h9.0M93.2,331.3h9.0M95.6,317.7h9.0M95.6,340.5h9.0M97.3,318.2h9.0M97.3,340.9h9.0M100.3,330.8h9.0M100.3,353.5h9.0M102.6,306.7h9.0M102.6,329.4h9.0M104.9,334.1h9.0M104.9,356.8h9.0M107.3,313.2h9.0M107.3,335.9h9.0M109.6,323.3h9.0M109.6,346.1h9.0M112.5,323.4h9.0M112.5,346.1h9.0M114.3,325.3h9.0M114.3,348.0h9.0M116.7,325.0h9.0M116.7,347.7h9.0M119.0,317.2h9.0M119.0,339.9h9.0M121.4,320.1h9.0M121.4,342.9h9.0M123.7,308.6h9.0M123.7,331.3h9.0M126.1,331.2h9.0M126.1,353.9h9.0M128.4,317.4h9.0M128.4,340.1h9.0M130.8,322.5h9.0M130.8,345.2h9.0M133.1,309.8h9.0M133.1,332.5h9.0M136.4,308.2h9.0M136.4,331.0h9.0M137.8,315.4h9.0M137.8,338.1h9.0M140.1,311.2h9.0M140.1,333.9h9.0M142.5,322.7h9.0M142.5,345.5h9.0M144.8,305.3h9.0M144.8,328.0h9.0M147.2,310.6h9.0M147.2,333.3h9.0M149.5,304.6h9.0M149.5,327.3h9.0M151.9,304.6h9.0M151.9,327.3h9.0M154.2,317.9h9.0M154.2,340.6h9.0M156.6,316.3h9.0M156.6,339.0h9.0M158.9,311.9h9.0M158.9,334.6h9.0M161.3,305.0h9.0M161.3,327.7h9.0M163.6,304.3h9.0M163.6,327.0h9.0M166.0,315.2h9.0M166.0,337.9h9.0M168.3,314.4h9.0M168.3,337.2h9.0M170.7,315.8h9.0M170.7,338.5h9.0M173.0,314.3h9.0M173.0,337.0h9.0M175.3,311.9h9.0M175.3,334.6h9.0M177.7,311.1h9.0M177.7,333.8h9.0M180.0,296.3h9.0M180.0,319.0h9.0M182.4,313.7h9.0M182.4,336.5h9.0M184.7,312.2h9.0M184.7,334.9h9.0M187.1,307.0h9.0M187.1,329.7h9.0M189.4,316.8h9.0M189.4,339.6h9.0M191.8,312.8h9.0M191.8,335.5h9.0M194.1,310.1h9.0M194.1,332.8h9.0M196.5,304.8h9.0M196.5,327.5h9.0M198.8,319.4h9.0M198.8,342.1h9.0M201.2,300.7h9.0M201.2,323.4h9.0M203.5,312.7h9.0M203.5,335.4h9.0M205.9,309.0h9.0M205.9,331.7h9.0M208.2,304.3h9.0M208.2,327.0h9.0M210.5,305.6h9.0M210.5,328.3h9.0M212.9,302.7h9.0M212.9,325.5h9.0M215.2,308.9h9.0M215.2,331.6h9.0M217.6,310.2h9.0M217.6,332.9h9.0M219.9,307.8h9.0M219.9,330.5h9.0M222.3,316.9h9.0M222.3,339.6h9.0M224.6,301.4h9.0M224.6,324.2h9.0M227.0,315.2h9.0M227.0,338.0h9.0M229.3,318.6h9.0M229.3,341.3h9.0M231.7,295.8h9.0M231.7,318.5h9.0M234.0,310.7h9.0M234.0,333.4h9.0M236.4,317.9h9.0M236.4,340.6h9.0M238.7,296.7h9.0M238.7,319.4h9.0M241.1,311.9h9.0M241.1,334.6h9.0M243.4,302.1h9.0M243.4,324.8h9.0M245.7,315.3h9.0M245.7,338.0h9.0M248.1,311.2h9.0M248.1,333.9h9.0M250.4,321.1h9.0M250.4,343.9h9.0M252.8,322.6h9.0M252.8,345.3h9.0M255.1,316.1h9.0M255.1,338.8h9.0M257.5,309.8h9.0M257.5,332.5h9.0M259.8,303.6h9.0M259.8,326.4h9.0M262.2,295.2h9.0M262.2,317.9h9.0M264.5,316.3h9.0M264.5,339.0h9.0M266.9,302.0h9.0M266.9,324.8h9.0M269.2,313.2h9.0M269.2,335.9h9.0M271.6,310.0h9.0M271.6,332.8h9.0M273.9,319.2h9.0M273.9,342.0h9.0M276.3,319.2h9.0M276.3,341.9h9.0M278.6,314.3h9.0M278.6,337.0h9.0M280.9,317.1h9.0M280.9,339.8h9.0M283.3,308.8h9.0M283.3,331.5h9.0M285.6,313.6h9.0M285.6,336.3h9.0M288.0,299.9h9.0M288.0,322.7h9.0M290.3,307.5h9.0M290.3,330.3h9.0M292.7,307.4h9.0M292.7,330.1h9.0M295.0,300.6h9.0M295.0,323.3h9.0M297.4,304.9h9.0M297.4,327.6h9.0M299.7,308.7h9.0M299.7,331.4h9.0M302.1,309.0h9.0M302.1,331.7h9.0M304.4,309.2h9.0M304.4,331.9h9.0M306.8,300.8h9.0M306.8,323.5h9.0M309.1,302.8h9.0M309.1,325.5h9.0M311.5,305.6h9.0M311.5,328.4h9.0M313.8,302.6h9.0M313.8,325.3h9.0M316.2,311.9h9.0M316.2,334.6h9.0M318.5,304.5h9.0M318.5,327.2h9.0M320.8,317.8h9.0M320.8,340.6h9.0M323.2,298.6h9.0M323.2,321.3h9.0M325.5,307.3h9.0M325.5,330.0h9.0M327.9,306.6h9.0M327.9,329.3h9.0M331.3,309.9h9.0M331.3,332.6h9.0M332.6,307.8h9.0M332.6,330.6h9.0M334.9,309.5h9.0M334.9,332.2h9.0M337.3,299.4h9.0M337.3,322.1h9.0M339.6,306.8h9.0M339.6,329.6h9.0M341.6,309.2h9.0M341.6,331.9h9.0M344.3,304.5h9.0M344.3,327.2h9.0M346.7,319.4h9.0M346.7,342.1h9.0M349.0,295.9h9.0M349.0,318.7h9.0M351.4,308.7h9.0M351.4,331.4h9.0M353.7,307.2h9.0M353.7,330.0h9.0M356.0,293.7h9.0M356.0,316.4h9.0M358.4,293.7h9.0M358.4,316.4h9.0M360.7,306.9h9.0M360.7,329.6h9.0M363.5,315.0h9.0M363.5,337.7h9.0M364.9,309.2h9.0M364.9,331.9h9.0M367.8,296.1h9.0M367.8,318.8h9.0M370.1,308.8h9.0M370.1,331.5h9.0M372.9,311.4h9.0M372.9,334.1h9.0M374.8,299.4h9.0M374.8,322.2h9.0M377.3,289.5h9.0M377.3,312.2h9.0M379.5,312.1h9.0M379.5,334.8h9.0M381.9,303.9h9.0M381.9,326.6h9.0M384.2,316.0h9.0M384.2,338.8h9.0M386.6,314.2h9.0M386.6,336.9h9.0M388.9,322.2h9.0M388.9,344.9h9.0M391.2,310.1h9.0M391.2,332.8h9.0M393.6,299.0h9.0M393.6,321.7h9.0M395.9,316.1h9.0M395.9,338.8h9.0M398.3,299.8h9.0M398.3,322.6h9.0M400.6,301.5h9.0M400.6,324.2h9.0M403.0,308.9h9.0M403.0,331.6h9.0M405.3,308.6h9.0M405.3,331.3h9.0M407.7,308.0h9.0M407.7,330.7h9.0M410.0,314.6h9.0M410.0,337.4h9.0M412.4,310.6h9.0M412.4,333.4h9.0M414.7,309.1h9.0M414.7,331.8h9.0M417.1,304.5h9.0M417.1,327.2h9.0M419.4,303.3h9.0M419.4,326.0h9.0M421.8,314.1h9.0M421.8,336.8h9.0M424.1,303.2h9.0M424.1,325.9h9.0M426.4,314.4h9.0M426.4,337.1h9.0M428.8,310.2h9.0M428.8,332.9h9.0M431.1,306.5h9.0M431.1,329.2h9.0M433.5,309.3h9.0M433.5,332.0h9.0M435.8,310.0h9.0M435.8,332.8h9.0M438.2,307.3h9.0M438.2,330.0h9.0M440.5,313.1h9.0M440.5,335.8h9.0M442.9,313.8h9.0M442.9,336.6h9.0M445.2,310.8h9.0M445.2,333.5h9.0M447.6,302.7h9.0M447.6,325.4h9.0M449.9,310.1h9.0M449.9,332.8h9.0M452.3,296.2h9.0M452.3,318.9h9.0M454.6,308.0h9.0M454.6,330.7h9.0M457.0,323.5h9.0M457.0,346.2h9.0M459.3,312.6h9.0M459.3,335.4h9.0M461.6,298.0h9.0M461.6,320.7h9.0M464.0,309.6h9.0M464.0,332.3h9.0M466.3,312.7h9.0M466.3,335.5h9.0M468.7,315.8h9.0M468.7,338.5h9.0M471.0,300.6h9.0M471.0,323.3h9.0M473.4,302.8h9.0M473.4,325.6h9.0M475.7,305.2h9.0M475.7,327.9h9.0M478.1,306.9h9.0M478.1,329.6h9.0M480.4,299.9h9.0M480.4,322.6h9.0M482.8,304.3h9.0M482.8,327.0h9.0M485.1,318.6h9.0M485.1,341.3h9.0M487.5,304.7h9.0M487.5,327.4h9.0M489.8,308.9h9.0M489.8,331.6h9.0M492.2,310.9h9.0M492.2,333.6h9.0M494.5,304.9h9.0M494.5,327.6h9.0M496.8,310.0h9.0M496.8,332.7h9.0M499.2,324.2h9.0M499.2,346.9h9.0M501.5,299.5h9.0M501.5,322.2h9.0M503.9,303.1h9.0M503.9,325.8h9.0M506.2,311.2h9.0M506.2,334.0h9.0M508.6,313.0h9.0M508.6,335.7h9.0M510.9,308.9h9.0M510.9,331.6h9.0M513.3,319.5h9.0M513.3,342.2h9.0M515.6,308.4h9.0M515.6,331.1h9.0M518.0,312.2h9.0M518.0,334.9h9.0M520.3,313.1h9.0M520.3,335.8h9.0M522.7,317.1h9.0M522.7,339.8h9.0M525.2,297.6h9.0M525.2,320.4h9.0M527.4,303.1h9.0M527.4,325.8h9.0M529.7,301.5h9.0M529.7,324.2h9.0M531.8,297.6h9.0M531.8,320.4h9.0M534.4,310.1h9.0M534.4,332.9h9.0M536.4,320.6h9.0M536.4,343.4h9.0M539.1,306.0h9.0M539.1,328.7h9.0M541.4,299.8h9.0M541.4,322.5h9.0M543.0,318.0h9.0M543.0,340.8h9.0M546.1,302.9h9.0M546.1,325.6h9.0M547.5,312.1h9.0M547.5,334.9h9.0" stroke="#0000FF" stroke-width="1" fill="none"/>
<path d="M71.9,326.1L74.2,324.2L76.6,312.9L78.9,321.4L81.3,338.9L83.6,328.9L86.0,333.6L88.3,328.5L90.7,341.1L93.0,328.6L95.4,329.0L97.7,320.0L100.1,329.1L101.8,329.5L104.8,342.2L107.1,318.0L109.4,345.4L111.8,324.6L114.1,334.7L117.0,334.8L118.8,336.7L121.2,336.3L123.5,328.5L125.9,331.5L128.2,319.9L130.6,342.5L132.9,328.7L135.3,333.8L137.6,321.1L140.9,319.6L142.3,326.7L144.6,322.6L147.0,334.1L149.3,316.6L151.7,322.0L154.0,315.9L156.4,316.0L158.7,329.2L161.1,327.7L163.4,323.3L165.8,316.4L168.1,315.6L170.5,326.5L172.8,325.8L175.2,327.1L177.5,325.6L179.8,323.2L182.2,322.5L184.5,307.6L186.9,325.1L189.2,323.6L191.6,318.4L193.9,328.2L196.3,324.1L198.6,321.5L201.0,316.2L203.3,330.7L205.7,312.0L208.0,324.0L210.4,320.4L212.7,315.7L215.0,316.9L217.4,314.1L219.7,320.2L222.1,321.5L224.4,319.1L226.8,328.2L229.1,312.8L231.5,326.6L233.8,329.9L236.2,307.2L238.5,322.0L240.9,329.2L243.2,308.1L245.6,323.2L247.9,313.5L250.2,326.6L252.6,322.5L254.9,332.5L257.3,334.0L259.6,327.4L262.0,321.1L264.3,315.0L266.7,306.6L269.0,327.7L271.4,313.4L273.7,324.6L276.1,321.4L278.4,330.6L280.8,330.5L283.1,325.6L285.4,328.5L287.8,320.1L290.1,324.9L292.5,311.3L294.8,318.9L297.2,318.8L299.5,312.0L301.9,316.2L304.2,320.0L306.6,320.4L308.9,320.5L311.3,312.1L313.6,314.1L316.0,317.0L318.3,313.9L320.7,323.3L323.0,315.9L325.3,329.2L327.7,309.9L330.0,318.7L332.4,318.0L335.8,321.3L337.1,319.2L339.4,320.9L341.8,310.8L344.1,318.2L346.1,320.5L348.8,315.9L351.2,330.7L353.5,307.3L355.9,320.1L358.2,318.6L360.5,305.0L362.9,305.1L365.2,318.2L368.0,326.4L369.4,320.5L372.3,307.5L374.6,320.1L377.4,322.7L379.3,310.8L381.8,300.8L384.0,323.5L386.4,315.2L388.7,327.4L391.1,325.5L393.4,333.5L395.7,321.5L398.1,310.4L400.4,327.5L402.8,311.2L405.1,312.9L407.5,320.3L409.8,320.0L412.2,319.4L414.5,326.0L416.9,322.0L419.2,320.4L421.6,315.9L423.9,314.7L426.3,325.4L428.6,314.5L430.9,325.7L433.3,321.6L435.6,317.9L438.0,320.6L440.3,321.4L442.7,318.7L445.0,324.5L447.4,325.2L449.7,322.1L452.1,314.0L454.4,321.5L456.8,307.6L459.1,319.4L461.5,334.8L463.8,324.0L466.1,309.4L468.5,321.0L470.8,324.1L473.2,327.2L475.5,311.9L477.9,314.2L480.2,316.5L482.6,318.3L484.9,311.3L487.3,315.6L489.6,329.9L492.0,316.1L494.3,320.3L496.7,322.3L499.0,316.2L501.3,321.4L503.7,335.6L506.0,310.8L508.4,314.5L510.7,322.6L513.1,324.4L515.4,320.3L517.8,330.8L520.1,319.8L522.5,323.6L524.8,324.5L527.2,328.5L529.7,309.0L531.9,314.4L534.2,312.9L536.3,309.0L538.9,321.5L540.9,332.0L543.6,317.3L545.9,311.1L547.5,329.4L550.6,314.3L552.0,323.5" stroke="#0000FF" stroke-width="1" fill="none"/>
<path d="M68.7,326.1a3.2,3.2 0 1,0 6.4,0a3.2,3.2 0 1,0 -6.4,0ZM71.0,324.2a3.2,3.2 0 1,0 6.4,0a3.2,3.2 0 1,0 -6.4,0ZM73.4,312.9a3.2,3.2 0 1,0 6.4,0a3.2,3.2 0 1,0 -6.4,0ZM75.7,321.4a3.2,3.2 0 1,0 6.4,0a3.2,3.2 0 1,0 -6.4,0ZM78.1,338.9a3.2,3.2 0 1,0 6.4,0a3.2,3.2 0 1,0 -6.4,0ZM80.4,328.9a3.2,3.2 0 1,0 6.4,0a3.2,3.2 0 1,0 -6.4,0ZM82.8,333.6a3.2,3.2 0 1,0 6.4,0a3.2,3.2 0 1,0 -6.4,0ZM85.1,328.5a3.2,3.2 0 1,0 6.4,0a3.2,3.2 0 1,0 -6.4,0ZM87.5,341.1a3.2,3.2 0 1,0 6.4,0a3.2,3.2 0 1,0 -6.4,0ZM89.8,328.6a3.2,3.2 0 1,0 6.4,0a3.2,3.2 0 1,0 -6.4,0ZM92.2,329.0a3.2,3.2 0 1,0 6.4,0a3.2,3.2 0 1,0 -6.4,0ZM94.5,320.0a3.2,3.2 0 1,0 6.4,0a3.2,3.2 0 1,0 -6.4,0ZM96.9,329.1a3.2,3.2 0 1,0 6.4,0a3.2,3.2 0 1,0 -6.4,0ZM98.6,329.5a3.2,3.2 0 1,0 6.4,0a3.2,3.2 0 1,0 -6.4,0ZM101.6,342.2a3.2,3.2 0 1,0 6.4,0a3.2,3.2 0 1,0 -6.4,0ZM103.9,318.0a3.2,3.2 0 1,0 6.4,0a3.2,3.2 0 1,0 -6.4,0ZM106.2,345.4a3.2,3.2 0 1,0 6.4,0a3.2,3.2 0 1,0 -6.4,0ZM108.6,324.6a3.2,3.2 0 1,0 6.4,0a3.2,3.2 0 1,0 -6.4,0ZM110.9,334.7a3.2,3.2 0 1,0 6.4,0a3.2,3.2 0 1,0 -6.4,0ZM113.8,334.8a3.2,3.2 0 1,0 6.4,0a3.2,3.2 0 1,0 -6.4,0ZM115.6,336.7a3.2,3.2 0 1,0 6.4,0a3.2,3.2 0 1,0 -6.4,0ZM118.0,336.3a3.2,3.2 0 1,0 6.4,0a3.2,3.2 0 1,0 -6.4,0ZM120.3,328.5a3.2,3.2 0 1,0 6.4,0a3.2,3.2 0 1,0 -6.4,0ZM122.7,331.5a3.2,3.2 0 1,0 6.4,0a3.2,3.2 0 1,0 -6.4,0ZM125.0,319.9a3.2,3.2 0 1,0 6.4,0a3.2,3.2 0 1,0 -6.4,0ZM127.4,342.5a3.2,3.2 0 1,0 6.4,0a3.2,3.2 0 1,0 -6.4,0ZM129.7,328.7a3.2,3.2 0 1,0 6.4,0a3.2,3.2 0 1,0 -6.4,0ZM132.1,333.8a3.2,3.2 0 1,0 6.4,0a3.2,3.2 0 1,0 -6.4,0ZM134.4,321.1a3.2,3.2 0 1,0 6.4,0a3.2,3.2 0 1,0 -6.4,0ZM137.7,319.6a3.2,3.2 0 1,0 6.4,0a3.2,3.2 0 1,0 -6.4,0ZM139.1,326.7a3.2,3.2 0 1,0 6.4,0a3.2,3.2 0 1,0 -6.4,0ZM141.4,322.6a3.2,3.2 0 1,0 6.4,0a3.2,3.2 0 1,0 -6.4,0ZM143.8,334.1a3.2,3.2 0 1,0 6.4,0a3.2,3.2 0 1,0 -6.4,0ZM146.1,316.6a3.2,3.2 0 1,0 6.4,0a3.2,3.2 0 1,0 -6.4,0ZM148.5,322.0a3.2,3.2 0 1,0 6.4,0a3.2,3.2 0 1,0 -6.4,0ZM150.8,315.9a3.2,3.2 0 1,0 6.4,0a3.2,3.2 0 1,0 -6.4,0ZM153.2,316.0a3.2,3.2 0 1,0 6.4,0a3.2,3.2 0 1,0 -6.4,0ZM155.5,329.2a3.2,3.2 0 1,0 6.4,0a3.2,3.2 0 1,0 -6.4,0ZM157.9,327.7a3.2,3.2 0 1,0 6.4,0a3.2,3.2 0 1,0 -6.4,0ZM160.2,323.3a3.2,3.2 0 1,0 6.4,0a3.2,3.2 0 1,0 -6.4,0ZM162.6,316.4a3.2,3.2 0 1,0 6.4,0a3.2,3.2 0 1,0 -6.4,0ZM164.9,315.6a3.2,3.2 0 1,0 6.4,0a3.2,3.2 0 1,0 -6.4,0ZM167.3,326.5a3.2,3.2 0 1,0 6.4,0a3.2,3.2 0 1,0 -6.4,0ZM169.6,325.8a3.2,3.2 0 1,0 6.4,0a3.2,3.2 0 1,0 -6.4,0ZM172.0,327.1a3.2,3.2 0 1,0 6.4,0a3.2,3.2 0 1,0 -6.4,0ZM174.3,325.6a3.2,3.2 0 1,0 6.4,0a3.2,3.2 0 1,0 -6.4,0ZM176.6,323.2a3.2,3.2 0 1,0 6.4,0a3.2,3.2 0 1,0 -6.4,0ZM179.0,322.5a3.2,3.2 0 1,0 6.4,0a3.2,3.2 0 1,0 -6.4,0ZM181.3,307.6a3.2,3.2 0 1,0 6.4,0a3.2,3.2 0 1,0 -6.4,0ZM183.7,325.1a3.2,3.2 0 1,0 6.4,0a3.2,3.2 0 1,0 -6.4,0ZM186.0,323.6a3.2,3.2 0 1,0 6.4,0a3.2,3.2 0 1,0 -6.4,0ZM188.4,318.4a3.2,3.2 0 1,0 6.4,0a3.2,3.2 0 1,0 -6.4,0ZM190.7,328.2a3.2,3.2 0 1,0 6.4,0a3.2,3.2 0 1,0 -6.4,0ZM193.1,324.1a3.2,3.2 0 1,0 6.4,0a3.2,3.2 0 1,0 -6.4,0ZM195.4,321.5a3.2,3.2 0 1,0 6.4,0a3.2,3.2 0 1,0 -6.4,0ZM197.8,316.2a3.2,3.2 0 1,0 6.4,0a3.2,3.2 0 1,0 -6.4,0ZM200.1,330.7a3.2,3.2 0 1,0 6.4,0a3.2,3.2 0 1,0 -6.4,0ZM202.5,312.0a3.2,3.2 0 1,0 6.4,0a3.2,3.2 0 1,0 -6.4,0ZM204.8,324.0a3.2,3.2 0 1,0 6.4,0a3.2,3.2 0 1,0 -6.4,0ZM207.2,320.4a3.2,3.2 0 1,0 6.4,0a3.2,3.2 0 1,0 -6.4,0ZM209.5,315.7a3.2,3.2 0 1,0 6.4,0a3.2,3.2 0 1,0 -6.4,0ZM211.8,316.9a3.2,3.2 0 1,0 6.4,0a3.2,3.2 0 1,0 -6.4,0ZM214.2,314.1a3.2,3.2 0 1,0 6.4,0a3.2,3.2 0 1,0 -6.4,0ZM216.5,320.2a3.2,3.2 0 1,0 6.4,0a3.2,3.2 0 1,0 -6.4,0ZM218.9,321.5a3.2,3.2 0 1,0 6.4,0a3.2,3.2 0 1,0 -6.4,0ZM221.2,319.1a3.2,3.2 0 1,0 6.4,0a3.2,3.2 0 1,0 -6.4,0ZM223.6,328.2a3.2,3.2 0 1,0 6.4,0a3.2,3.2 0 1,0 -6.4,0ZM225.9,312.8a3.2,3.2 0 1,0 6.4,0a3.2,3.2 0 1,0 -6.4,0ZM228.3,326.6a3.2,3.2 0 1,0 6.4,0a3.2,3.2 0 1,0 -6.4,0ZM230.6,329.9a3.2,3.2 0 1,0 6.4,0a3.2,3.2 0 1,0 -6.4,0ZM233.0,307.2a3.2,3.2 0 1,0 6.4,0a3.2,3.2 0 1,0 -6.4,0ZM235.3,322.0a3.2,3.2 0 1,0 6.4,0a3.2,3.2 0 1,0 -6.4,0ZM237.7,329.2a3.2,3.2 0 1,0 6.4,0a3.2,3.2 0 1,0 -6.4,0ZM240.0,308.1a3.2,3.2 0 1,0 6.4,0a3.2,3.2 0 1,0 -6.4,0ZM242.4,323.2a3.2,3.2 0 1,0 6.4,0a3.2,3.2 0 1,0 -6.4,0ZM244.7,313.5a3.2,3.2 0 1,0 6.4,0a3.2,3.2 0 1,0 -6.4,0ZM247.0,326.6a3.2,3.2 0 1,0 6.4,0a3.2,3.2 0 1,0 -6.4,0ZM249.4,322.5a3.2,3.2 0 1,0 6.4,0a3.2,3.2 0 1,0 -6.4,0ZM251.7,332.5a3.2,3.2 0 1,0 6.4,0a3.2,3.2 0 1,0 -6.4,0ZM254.1,334.0a3.2,3.2 0 1,0 6.4,0a3.2,3.2 0 1,0 -6.4,0ZM256.4,327.4a3.2,3.2 0 1,0 6.4,0a3.2,3.2 0 1,0 -6.4,0ZM258.8,321.1a3.2,3.2 0 1,0 6.4,0a3.2,3.2 0 1,0 -6.4,0ZM261.1,315.0a3.2,3.2 0 1,0 6.4,0a3.2,3.2 0 1,0 -6.4,0ZM263.5,306.6a3.2,3.2 0 1,0 6.4,0a3.2,3.2 0 1,0 -6.4,0ZM265.8,327.7a3.2,3.2 0 1,0 6.4,0a3.2,3.2 0 1,0 -6.4,0ZM268.2,313.4a3.2,3.2 0 1,0 6.4,0a3.2,3.2 0 1,0 -6.4,0ZM270.5,324.6a3.2,3.2 0 1,0 6.4,0a3.2,3.2 0 1,0 -6.4,0ZM272.9,321.4a3.2,3.2 0 1,0 6.4,0a3.2,3.2 0 1,0 -6.4,0ZM275.2,330.6a3.2,3.2 0 1,0 6.4,0a3.2,3.2 0 1,0 -6.4,0ZM277.6,330.5a3.2,3.2 0 1,0 6.4,0a3.2,3.2 0 1,0 -6.4,0ZM279.9,325.6a3.2,3.2 0 1,0 6.4,0a3.2,3.2 0 1,0 -6.4,0ZM282.2,328.5a3.2,3.2 0 1,0 6.4,0a3.2,3.2 0 1,0 -6.4,0ZM284.6,320.1a3.2,3.2 0 1,0 6.4,0a3.2,3.2 0 1,0 -6.4,0ZM286.9,324.9a3.2,3.2 0 1,0 6.4,0a3.2,3.2 0 1,0 -6.4,0ZM289.3,311.3a3.2,3.2 0 1,0 6.4,0a3.2,3.2 0 1,0 -6.4,0ZM291.6,318.9a3.2,3.2 0 1,0 6.4,0a3.2,3.2 0 1,0 -6.4,0ZM294.0,318.8a3.2,3.2 0 1,0 6.4,0a3.2,3.2 0 1,0 -6.4,0ZM296.3,312.0a3.2,3.2 0 1,0 6.4,0a3.2,3.2 0 1,0 -6.4,0ZM298.7,316.2a3.2,3.2 0 1,0 6.4,0a3.2,3.2 0 1,0 -6.4,0ZM301.0,320.0a3.2,3.2 0 1,0 6.4,0a3.2,3.2 0 1,0 -6.4,0ZM303.4,320.4a3.2,3.2 0 1,0 6.4,0a3.2,3.2 0 1,0 -6.4,0ZM305.7,320.5a3.2,3.2 0 1,0 6.4,0a3.2,3.2 0 1,0 -6.4,0ZM308.1,312.1a3.2,3.2 0 1,0 6.4,0a3.2,3.2 0 1,0 -6.4,0ZM310.4,314.1a3.2,3.2 0 1,0 6.4,0a3.2,3.2 0 1,0 -6.4,0ZM312.8,317.0a3.2,3.2 0 1,0 6.4,0a3.2,3.2 0 1,0 -6.4,0ZM315.1,313.9a3.2,3.2 0 1,0 6.4,0a3.2,3.2 0 1,0 -6.4,0ZM317.5,323.3a3.2,3.2 0 1,0 6.4,0a3.2,3.2 0 1,0 -6.4,0ZM319.8,315.9a3.2,3.2 0 1,0 6.4,0a3.2,3.2 0 1,0 -6.4,0ZM322.1,329.2a3.2,3.2 0 1,0 6.4,0a3.2,3.2 0 1,0 -6.4,0ZM324.5,309.9a3.2,3.2 0 1,0 6.4,0a3.2,3.2 0 1,0 -6.4,0ZM326.8,318.7a3.2,3.2 0 1,0 6.4,0a3.2,3.2 0 1,0 -6.4,0ZM329.2,318.0a3.2,3.2 0 1,0 6.4,0a3.2,3.2 0 1,0 -6.4,0ZM332.6,321.3a3.2,3.2 0 1,0 6.4,0a3.2,3.2 0 1,0 -6.4,0ZM333.9,319.2a3.2,3.2 0 1,0 6.4,0a3.2,3.2 0 1,0 -6.4,0ZM336.2,320.9a3.2,3.2 0 1,0 6.4,0a3.2,3.2 0 1,0 -6.4,0ZM338.6,310.8a3.2,3.2 0 1,0 6.4,0a3.2,3.2 0 1,0 -6.4,0ZM340.9,318.2a3.2,3.2 0 1,0 6.4,0a3.2,3.2 0 1,0 -6.4,0ZM342.9,320.5a3.2,3.2 0 1,0 6.4,0a3.2,3.2 0 1,0 -6.4,0ZM345.6,315.9a3.2,3.2 0 1,0 6.4,0a3.2,3.2 0 1,0 -6.4,0ZM348.0,330.7a3.2,3.2 0 1,0 6.4,0a3.2,3.2 0 1,0 -6.4,0ZM350.3,307.3a3.2,3.2 0 1,0 6.4,0a3.2,3.2 0 1,0 -6.4,0ZM352.7,320.1a3.2,3.2 0 1,0 6.4,0a3.2,3.2 0 1,0 -6.4,0ZM355.0,318.6a3.2,3.2 0 1,0 6.4,0a3.2,3.2 0 1,0 -6.4,0ZM357.3,305.0a3.2,3.2 0 1,0 6.4,0a3.2,3.2 0 1,0 -6.4,0ZM359.7,305.1a3.2,3.2 0 1,0 6.4,0a3.2,3.2 0 1,0 -6.4,0ZM362.0,318.2a3.2,3.2 0 1,0 6.4,0a3.2,3.2 0 1,0 -6.4,0ZM364.8,326.4a3.2,3.2 0 1,0 6.4,0a3.2,3.2 0 1,0 -6.4,0ZM366.2,320.5a3.2,3.2 0 1,0 6.4,0a3.2,3.2 0 1,0 -6.4,0ZM369.1,307.5a3.2,3.2 0 1,0 6.4,0a3.2,3.2 0 1,0 -6.4,0ZM371.4,320.1a3.2,3.2 0 1,0 6.4,0a3.2,3.2 0 1,0 -6.4,0ZM374.2,322.7a3.2,3.2 0 1,0 6.4,0a3.2,3.2 0 1,0 -6.4,0ZM376.1,310.8a3.2,3.2 0 1,0 6.4,0a3.2,3.2 0 1,0 -6.4,0ZM378.6,300.8a3.2,3.2 0 1,0 6.4,0a3.2,3.2 0 1,0 -6.4,0ZM380.8,323.5a3.2,3.2 0 1,0 6.4,0a3.2,3.2 0 1,0 -6.4,0ZM383.2,315.2a3.2,3.2 0 1,0 6.4,0a3.2,3.2 0 1,0 -6.4,0ZM385.5,327.4a3.2,3.2 0 1,0 6.4,0a3.2,3.2 0 1,0 -6.4,0ZM387.9,325.5a3.2,3.2 0 1,0 6.4,0a3.2,3.2 0 1,0 -6.4,0ZM390.2,333.5a3.2,3.2 0 1,0 6.4,0a3.2,3.2 0 1,0 -6.4,0ZM392.5,321.5a3.2,3.2 0 1,0 6.4,0a3.2,3.2 0 1,0 -6.4,0ZM394.9,310.4a3.2,3.2 0 1,0 6.4,0a3.2,3.2 0 1,0 -6.4,0ZM397.2,327.5a3.2,3.2 0 1,0 6.4,0a3.2,3.2 0 1,0 -6.4,0ZM399.6,311.2a3.2,3.2 0 1,0 6.4,0a3.2,3.2 0 1,0 -6.4,0ZM401.9,312.9a3.2,3.2 0 1,0 6.4,0a3.2,3.2 0 1,0 -6.4,0ZM404.3,320.3a3.2,3.2 0 1,0 6.4,0a3.2,3.2 0 1,0 -6.4,0ZM406.6,320.0a3.2,3.2 0 1,0 6.4,0a3.2,3.2 0 1,0 -6.4,0ZM409.0,319.4a3.2,3.2 0 1,0 6.4,0a3.2,3.2 0 1,0 -6.4,0ZM411.3,326.0a3.2,3.2 0 1,0 6.4,0a3.2,3.2 0 1,0 -6.4,0ZM413.7,322.0a3.2,3.2 0 1,0 6.4,0a3.2,3.2 0 1,0 -6.4,0ZM416.0,320.4a3.2,3.2 0 1,0 6.4,0a3.2,3.2 0 1,0 -6.4,0ZM418.4,315.9a3.2,3.2 0 1,0 6.4,0a3.2,3.2 0 1,0 -6.4,0ZM420.7,314.7a3.2,3.2 0 1,0 6.4,0a3.2,3.2 0 1,0 -6.4,0ZM423.1,325.4a3.2,3.2 0 1,0 6.4,0a3.2,3.2 0 1,0 -6.4,0ZM425.4,314.5a3.2,3.2 0 1,0 6.4,0a3.2,3.2 0 1,0 -6.4,0ZM427.7,325.7a3.2,3.2 0 1,0 6.4,0a3.2,3.2 0 1,0 -6.4,0ZM430.1,321.6a3.2,3.2 0 1,0 6.4,0a3.2,3.2 0 1,0 -6.4,0ZM432.4,317.9a3.2,3.2 0 1,0 6.4,0a3.2,3.2 0 1,0 -6.4,0ZM434.8,320.6a3.2,3.2 0 1,0 6.4,0a3.2,3.2 0 1,0 -6.4,0ZM437.1,321.4a3.2,3.2 0 1,0 6.4,0a3.2,3.2 0 1,0 -6.4,0ZM439.5,318.7a3.2,3.2 0 1,0 6.4,0a3.2,3.2 0 1,0 -6.4,0ZM441.8,324.5a3.2,3.2 0 1,0 6.4,0a3.2,3.2 0 1,0 -6.4,0ZM444.2,325.2a3.2,3.2 0 1,0 6.4,0a3.2,3.2 0 1,0 -6.4,0ZM446.5,322.1a3.2,3.2 0 1,0 6.4,0a3.2,3.2 0 1,0 -6.4,0ZM448.9,314.0a3.2,3.2 0 1,0 6.4,0a3.2,3.2 0 1,0 -6.4,0ZM451.2,321.5a3.2,3.2 0 1,0 6.4,0a3.2,3.2 0 1,0 -6.4,0ZM453.6,307.6a3.2,3.2 0 1,0 6.4,0a3.2,3.2 0 1,0 -6.4,0ZM455.9,319.4a3.2,3.2 0 1,0 6.4,0a3.2,3.2 0 1,0 -6.4,0ZM458.3,334.8a3.2,3.2 0 1,0 6.4,0a3.2,3.2 0 1,0 -6.4,0ZM460.6,324.0a3.2,3.2 0 1,0 6.4,0a3.2,3.2 0 1,0 -6.4,0ZM462.9,309.4a3.2,3.2 0 1,0 6.4,0a3.2,3.2 0 1,0 -6.4,0ZM465.3,321.0a3.2,3.2 0 1,0 6.4,0a3.2,3.2 0 1,0 -6.4,0ZM467.6,324.1a3.2,3.2 0 1,0 6.4,0a3.2,3.2 0 1,0 -6.4,0ZM470.0,327.2a3.2,3.2 0 1,0 6.4,0a3.2,3.2 0 1,0 -6.4,0ZM472.3,311.9a3.2,3.2 0 1,0 6.4,0a3.2,3.2 0 1,0 -6.4,0ZM474.7,314.2a3.2,3.2 0 1,0 6.4,0a3.2,3.2 0 1,0 -6.4,0ZM477.0,316.5a3.2,3.2 0 1,0 6.4,0a3.2,3.2 0 1,0 -6.4,0ZM479.4,318.3a3.2,3.2 0 1,0 6.4,0a3.2,3.2 0 1,0 -6.4,0ZM481.7,311.3a3.2,3.2 0 1,0 6.4,0a3.2,3.2 0 1,0 -6.4,0ZM484.1,315.6a3.2,3.2 0 1,0 6.4,0a3.2,3.2 0 1,0 -6.4,0ZM486.4,329.9a3.2,3.2 0 1,0 6.4,0a3.2,3.2 0 1,0 -6.4,0ZM488.8,316.1a3.2,3.2 0 1,0 6.4,0a3.2,3.2 0 1,0 -6.4,0ZM491.1,320.3a3.2,3.2 0 1,0 6.4,0a3.2,3.2 0 1,0 -6.4,0ZM493.5,322.3a3.2,3.2 0 1,0 6.4,0a3.2,3.2 0 1,0 -6.4,0ZM495.8,316.2a3.2,3.2 0 1,0 6.4,0a3.2,3.2 0 1,0 -6.4,0ZM498.1,321.4a3.2,3.2 0 1,0 6.4,0a3.2,3.2 0 1,0 -6.4,0ZM500.5,335.6a3.2,3.2 0 1,0 6.4,0a3.2,3.2 0 1,0 -6.4,0ZM502.8,310.8a3.2,3.2 0 1,0 6.4,0a3.2,3.2 0 1,0 -6.4,0ZM505.2,314.5a3.2,3.2 0 1,0 6.4,0a3.2,3.2 0 1,0 -6.4,0ZM507.5,322.6a3.2,3.2 0 1,0 6.4,0a3.2,3.2 0 1,0 -6.4,0ZM509.9,324.4a3.2,3.2 0 1,0 6.4,0a3.2,3.2 0 1,0 -6.4,0ZM512.2,320.3a3.2,3.2 0 1,0 6.4,0a3.2,3.2 0 1,0 -6.4,0ZM514.6,330.8a3.2,3.2 0 1,0 6.4,0a3.2,3.2 0 1,0 -6.4,0ZM516.9,319.8a3.2,3.2 0 1,0 6.4,0a3.2,3.2 0 1,0 -6.4,0ZM519.3,323.6a3.2,3.2 0 1,0 6.4,0a3.2,3.2 0 1,0 -6.4,0ZM521.6,324.5a3.2,3.2 0 1,0 6.4,0a3.2,3.2 0 1,0 -6.4,0ZM524.0,328.5a3.2,3.2 0 1,0 6.4,0a3.2,3.2 0 1,0 -6.4,0ZM526.5,309.0a3.2,3.2 0 1,0 6.4,0a3.2,3.2 0 1,0 -6.4,0ZM528.7,314.4a3.2,3.2 0 1,0 6.4,0a3.2,3.2 0 1,0 -6.4,0ZM531.0,312.9a3.2,3.2 0 1,0 6.4,0a3.2,3.2 0 1,0 -6.4,0ZM533.1,309.0a3.2,3.2 0 1,0 6.4,0a3.2,3.2 0 1,0 -6.4,0ZM535.7,321.5a3.2,3.2 0 1,0 6.4,0a3.2,3.2 0 1,0 -6.4,0ZM537.7,332.0a3.2,3.2 0 1,0 6.4,0a3.2,3.2 0 1,0 -6.4,0ZM540.4,317.3a3.2,3.2 0 1,0 6.4,0a3.2,3.2 0 1,0 -6.4,0ZM542.7,311.1a3.2,3.2 0 1,0 6.4,0a3.2,3.2 0 1,0 -6.4,0ZM544.3,329.4a3.2,3.2 0 1,0 6.4,0a3.2,3.2 0 1,0 -6.4,0ZM547.4,314.3a3.2,3.2 0 1,0 6.4,0a3.2,3.2 0 1,0 -6.4,0ZM548.8,323.5a3.2,3.2 0 1,0 6.4,0a3.2,3.2 0 1,0 -6.4,0Z" fill="#0000FF"/>
<path d="M71.9,298.4V327.7M74.2,298.8V328.1M76.6,279.7V309.0M78.9,277.4V306.7M81.3,269.5V298.8M83.6,267.4V296.7M86.0,260.7V290.0M88.3,255.9V285.2M91.5,258.2V287.6M93.0,258.2V287.6M95.4,258.2V287.6M97.7,252.3V281.7M100.1,252.3V281.7M101.7,252.3V281.7M103.4,244.7V274.0M105.9,245.5V274.9M109.4,229.8V260.0M111.8,229.8V260.0M115.3,229.8V260.0M116.5,229.8V260.0M118.8,219.8V251.4M121.2,219.8V251.4M122.0,218.9V250.6M125.4,207.1V240.3M125.4,207.1V240.3M132.2,184.5V220.6M133.0,192.7V227.7M133.4,192.1V227.2M133.9,194.4V229.3M138.5,181.2V217.8M142.4,183.6V219.8M142.7,189.4V224.9M144.1,191.7V226.9M149.5,158.5V198.1M151.2,175.8V213.1M154.0,181.2V217.8M155.4,181.2V217.8M158.8,163.1V202.0M161.1,134.0V176.8M163.1,134.0V176.8M166.4,163.1V202.0M168.1,163.1V202.0M170.7,154.9V194.9M172.8,122.3V166.6M174.9,122.3V166.6M178.3,135.0V177.6M179.2,149.5V190.2M182.2,124.1V168.1M184.2,124.1V168.1M187.6,132.2V175.2M189.2,132.2V175.2M191.9,115.9V161.0M193.6,129.5V172.9M195.1,116.3V161.4M199.3,91.8V140.1M201.0,91.8V140.1M203.3,89.1V137.7M205.3,89.1V137.7M207.8,104.5V151.1M210.4,98.1V145.6M212.0,98.1V145.6M214.6,84.5V133.8M218.0,108.1V154.3M219.7,79.1V129.0M221.4,79.1V129.0M223.9,70.9V121.9M226.4,109.0V155.0M229.1,79.1V129.0M230.7,79.1V129.0M234.9,106.3V152.7M236.2,106.3V152.7M238.3,94.5V142.4M241.7,79.1V129.0M243.2,79.1V129.0M245.1,93.6V141.6M247.6,61.0V113.3M250.2,69.1V120.4M252.7,86.4V135.3M254.9,86.4V135.3M257.8,66.4V118.0M259.5,59.1V111.7M262.0,59.1V111.7M264.6,79.1V129.0M266.3,93.6V141.6M268.4,68.8V120.1M271.4,79.6V129.5M272.6,79.6V129.5M276.1,48.8V102.7M277.7,48.8V102.7M280.3,59.7V112.2M283.1,66.0V117.7M285.3,66.0V117.7M287.0,57.9V110.6M290.1,69.7V120.8M292.1,69.7V120.8M293.8,38.8V94.0M298.1,86.9V135.8M299.5,86.9V135.8M301.9,36.1V91.7M303.1,36.1V91.7M307.4,67.9V119.3M308.9,67.9V119.3M310.8,76.0V126.4M313.3,34.3V90.1M315.8,79.6V129.5M317.5,41.6V96.4M320.7,46.1V100.4M322.6,46.1V100.4M325.3,52.4V105.9M326.9,52.4V105.9M331.9,53.2V106.5M331.9,54.3V107.4M334.5,70.6V121.6M335.6,43.1V97.8M336.2,43.4V98.0M337.5,79.4V129.3M338.5,39.1V94.3M343.2,24.0V81.2M346.9,59.3V111.8M350.7,21.0V78.5M353.5,21.0V78.5M356.4,34.1V89.9M358.2,34.1V89.9M361.1,56.2V109.2M362.9,56.2V109.2M364.8,16.0V74.2M367.6,23.0V80.3M369.5,33.1V89.0M372.4,78.4V128.4M374.2,26.0V82.9M376.1,59.3V111.8M378.0,42.1V96.9M381.7,51.2V104.8M384.6,51.2V104.8M386.4,51.2V104.8M388.4,51.2V104.8M392.1,60.3V112.7M393.4,60.3V112.7M395.9,64.3V116.2M398.1,64.3V116.2M401.5,66.3V117.9M402.3,66.9V118.5M404.5,43.6V98.2M405.3,43.1V97.8M407.2,56.2V109.2M408.1,81.4V131.1M409.0,81.4V131.1M412.0,53.2V106.6M418.1,65.3V117.1M421.6,22.6V80.0M424.1,22.6V80.0M425.6,25.9V82.8M429.4,46.8V101.0M430.9,46.8V101.0M433.9,36.3V91.9M435.6,36.3V91.9M439.2,72.6V123.4M440.3,72.6V123.4M443.7,42.0V96.8M445.0,42.0V96.8M446.7,28.3V84.9M449.7,63.7V115.7M452.1,45.2V99.6M453.5,45.2V99.6M456.8,33.9V89.8M458.0,33.9V89.8M459.5,56.5V109.4M463.3,42.8V97.5M467.0,53.2V106.6M468.5,53.2V106.6M470.0,33.1V89.1M473.8,63.7V115.7M475.5,44.4V98.9M476.8,44.4V98.9M481.0,37.1V92.6M482.6,45.2V99.6M484.0,45.2V99.6M487.0,62.1V114.3M488.5,39.6V94.7M492.3,54.1V107.3M494.3,74.2V124.8M496.1,74.2V124.8M498.3,46.0V100.3M501.3,59.7V112.2M502.8,59.7V112.2M506.0,61.3V113.6M507.4,61.3V113.6M511.1,36.3V91.9M513.4,54.1V107.3M516.4,60.5V112.9M517.8,60.5V112.9M519.4,67.8V119.2M522.4,33.9V89.8M524.8,33.9V89.8M527.7,53.2V106.6M530.0,36.3V91.9M532.2,63.7V115.7M534.2,57.3V110.1M536.0,57.3V110.1M539.7,58.9V111.5M542.0,66.1V117.8M542.8,54.1V107.3M545.9,79.0V129.0M547.3,79.0V129.0M550.3,88.7V137.4" stroke="#808000" stroke-width="0.9" fill="none"/>
<path d="M67.4,298.4h9.0M67.4,327.7h9.0M69.7,298.8h9.0M69.7,328.1h9.0M72.1,279.7h9.0M72.1,309.0h9.0M74.4,277.4h9.0M74.4,306.7h9.0M76.8,269.5h9.0M76.8,298.8h9.0M79.1,267.4h9.0M79.1,296.7h9.0M81.5,260.7h9.0M81.5,290.0h9.0M83.8,255.9h9.0M83.8,285.2h9.0M87.0,258.2h9.0M87.0,287.6h9.0M88.5,258.2h9.0M88.5,287.6h9.0M90.9,258.2h9.0M90.9,287.6h9.0M93.2,252.3h9.0M93.2,281.7h9.0M95.6,252.3h9.0M95.6,281.7h9.0M97.2,252.3h9.0M97.2,281.7h9.0M98.9,244.7h9.0M98.9,274.0h9.0M101.4,245.5h9.0M101.4,274.9h9.0M104.9,229.8h9.0M104.9,260.0h9.0M107.3,229.8h9.0M107.3,260.0h9.0M110.8,229.8h9.0M110.8,260.0h9.0M112.0,229.8h9.0M112.0,260.0h9.0M114.3,219.8h9.0M114.3,251.4h9.0M116.7,219.8h9.0M116.7,251.4h9.0M117.5,218.9h9.0M117.5,250.6h9.0M120.9,207.1h9.0M120.9,240.3h9.0M120.9,207.1h9.0M120.9,240.3h9.0M127.7,184.5h9.0M127.7,220.6h9.0M128.5,192.7h9.0M128.5,227.7h9.0M128.9,192.1h9.0M128.9,227.2h9.0M129.4,194.4h9.0M129.4,229.3h9.0M134.0,181.2h9.0M134.0,217.8h9.0M137.9,183.6h9.0M137.9,219.8h9.0M138.2,189.4h9.0M138.2,224.9h9.0M139.6,191.7h9.0M139.6,226.9h9.0M145.0,158.5h9.0M145.0,198.1h9.0M146.7,175.8h9.0M146.7,213.1h9.0M149.5,181.2h9.0M149.5,217.8h9.0M150.9,181.2h9.0M150.9,217.8h9.0M154.3,163.1h9.0M154.3,202.0h9.0M156.6,134.0h9.0M156.6,176.8h9.0M158.6,134.0h9.0M158.6,176.8h9.0M161.9,163.1h9.0M161.9,202.0h9.0M163.6,163.1h9.0M163.6,202.0h9.0M166.2,154.9h9.0M166.2,194.9h9.0M168.3,122.3h9.0M168.3,166.6h9.0M170.4,122.3h9.0M170.4,166.6h9.0M173.8,135.0h9.0M173.8,177.6h9.0M174.7,149.5h9.0M174.7,190.2h9.0M177.7,124.1h9.0M177.7,168.1h9.0M179.7,124.1h9.0M179.7,168.1h9.0M183.1,132.2h9.0M183.1,175.2h9.0M184.7,132.2h9.0M184.7,175.2h9.0M187.4,115.9h9.0M187.4,161.0h9.0M189.1,129.5h9.0M189.1,172.9h9.0M190.6,116.3h9.0M190.6,161.4h9.0M194.8,91.8h9.0M194.8,140.1h9.0M196.5,91.8h9.0M196.5,140.1h9.0M198.8,89.1h9.0M198.8,137.7h9.0M200.8,89.1h9.0M200.8,137.7h9.0M203.3,104.5h9.0M203.3,151.1h9.0M205.9,98.1h9.0M205.9,145.6h9.0M207.5,98.1h9.0M207.5,145.6h9.0M210.1,84.5h9.0M210.1,133.8h9.0M213.5,108.1h9.0M213.5,154.3h9.0M215.2,79.1h9.0M215.2,129.0h9.0M216.9,79.1h9.0M216.9,129.0h9.0M219.4,70.9h9.0M219.4,121.9h9.0M221.9,109.0h9.0M221.9,155.0h9.0M224.6,79.1h9.0M224.6,129.0h9.0M226.2,79.1h9.0M226.2,129.0h9.0M230.4,106.3h9.0M230.4,152.7h9.0M231.7,106.3h9.0M231.7,152.7h9.0M233.8,94.5h9.0M233.8,142.4h9.0M237.2,79.1h9.0M237.2,129.0h9.0M238.7,79.1h9.0M238.7,129.0h9.0M240.6,93.6h9.0M240.6,141.6h9.0M243.1,61.0h9.0M243.1,113.3h9.0M245.7,69.1h9.0M245.7,120.4h9.0M248.2,86.4h9.0M248.2,135.3h9.0M250.4,86.4h9.0M250.4,135.3h9.0M253.3,66.4h9.0M253.3,118.0h9.0M255.0,59.1h9.0M255.0,111.7h9.0M257.5,59.1h9.0M257.5,111.7h9.0M260.1,79.1h9.0M260.1,129.0h9.0M261.8,93.6h9.0M261.8,141.6h9.0M263.9,68.8h9.0M263.9,120.1h9.0M266.9,79.6h9.0M266.9,129.5h9.0M268.1,79.6h9.0M268.1,129.5h9.0M271.6,48.8h9.0M271.6,102.7h9.0M273.2,48.8h9.0M273.2,102.7h9.0M275.8,59.7h9.0M275.8,112.2h9.0M278.6,66.0h9.0M278.6,117.7h9.0M280.8,66.0h9.0M280.8,117.7h9.0M282.5,57.9h9.0M282.5,110.6h9.0M285.6,69.7h9.0M285.6,120.8h9.0M287.6,69.7h9.0M287.6,120.8h9.0M289.3,38.8h9.0M289.3,94.0h9.0M293.6,86.9h9.0M293.6,135.8h9.0M295.0,86.9h9.0M295.0,135.8h9.0M297.4,36.1h9.0M297.4,91.7h9.0M298.6,36.1h9.0M298.6,91.7h9.0M302.9,67.9h9.0M302.9,119.3h9.0M304.4,67.9h9.0M304.4,119.3h9.0M306.3,76.0h9.0M306.3,126.4h9.0M308.8,34.3h9.0M308.8,90.1h9.0M311.3,79.6h9.0M311.3,129.5h9.0M313.0,41.6h9.0M313.0,96.4h9.0M316.2,46.1h9.0M316.2,100.4h9.0M318.1,46.1h9.0M318.1,100.4h9.0M320.8,52.4h9.0M320.8,105.9h9.0M322.4,52.4h9.0M322.4,105.9h9.0M327.4,53.2h9.0M327.4,106.5h9.0M327.4,54.3h9.0M327.4,107.4h9.0M330.0,70.6h9.0M330.0,121.6h9.0M331.1,43.1h9.0M331.1,97.8h9.0M331.7,43.4h9.0M331.7,98.0h9.0M333.0,79.4h9.0M333.0,129.3h9.0M334.0,39.1h9.0M334.0,94.3h9.0M338.7,24.0h9.0M338.7,81.2h9.0M342.4,59.3h9.0M342.4,111.8h9.0M346.2,21.0h9.0M346.2,78.5h9.0M349.0,21.0h9.0M349.0,78.5h9.0M351.9,34.1h9.0M351.9,89.9h9.0M353.7,34.1h9.0M353.7,89.9h9.0M356.6,56.2h9.0M356.6,109.2h9.0M358.4,56.2h9.0M358.4,109.2h9.0M360.3,16.0h9.0M360.3,74.2h9.0M363.1,23.0h9.0M363.1,80.3h9.0M365.0,33.1h9.0M365.0,89.0h9.0M367.9,78.4h9.0M367.9,128.4h9.0M369.7,26.0h9.0M369.7,82.9h9.0M371.6,59.3h9.0M371.6,111.8h9.0M373.5,42.1h9.0M373.5,96.9h9.0M377.2,51.2h9.0M377.2,104.8h9.0M380.1,51.2h9.0M380.1,104.8h9.0M381.9,51.2h9.0M381.9,104.8h9.0M383.9,51.2h9.0M383.9,104.8h9.0M387.6,60.3h9.0M387.6,112.7h9.0M388.9,60.3h9.0M388.9,112.7h9.0M391.4,64.3h9.0M391.4,116.2h9.0M393.6,64.3h9.0M393.6,116.2h9.0M397.0,66.3h9.0M397.0,117.9h9.0M397.8,66.9h9.0M397.8,118.5h9.0M400.0,43.6h9.0M400.0,98.2h9.0M400.8,43.1h9.0M400.8,97.8h9.0M402.7,56.2h9.0M402.7,109.2h9.0M403.6,81.4h9.0M403.6,131.1h9.0M404.5,81.4h9.0M404.5,131.1h9.0M407.5,53.2h9.0M407.5,106.6h9.0M413.6,65.3h9.0M413.6,117.1h9.0M417.1,22.6h9.0M417.1,80.0h9.0M419.6,22.6h9.0M419.6,80.0h9.0M421.1,25.9h9.0M421.1,82.8h9.0M424.9,46.8h9.0M424.9,101.0h9.0M426.4,46.8h9.0M426.4,101.0h9.0M429.4,36.3h9.0M429.4,91.9h9.0M431.1,36.3h9.0M431.1,91.9h9.0M434.7,72.6h9.0M434.7,123.4h9.0M435.8,72.6h9.0M435.8,123.4h9.0M439.2,42.0h9.0M439.2,96.8h9.0M440.5,42.0h9.0M440.5,96.8h9.0M442.2,28.3h9.0M442.2,84.9h9.0M445.2,63.7h9.0M445.2,115.7h9.0M447.6,45.2h9.0M447.6,99.6h9.0M449.0,45.2h9.0M449.0,99.6h9.0M452.3,33.9h9.0M452.3,89.8h9.0M453.5,33.9h9.0M453.5,89.8h9.0M455.0,56.5h9.0M455.0,109.4h9.0M458.8,42.8h9.0M458.8,97.5h9.0M462.5,53.2h9.0M462.5,106.6h9.0M464.0,53.2h9.0M464.0,106.6h9.0M465.5,33.1h9.0M465.5,89.1h9.0M469.3,63.7h9.0M469.3,115.7h9.0M471.0,44.4h9.0M471.0,98.9h9.0M472.3,44.4h9.0M472.3,98.9h9.0M476.5,37.1h9.0M476.5,92.6h9.0M478.1,45.2h9.0M478.1,99.6h9.0M479.5,45.2h9.0M479.5,99.6h9.0M482.5,62.1h9.0M482.5,114.3h9.0M484.0,39.6h9.0M484.0,94.7h9.0M487.8,54.1h9.0M487.8,107.3h9.0M489.8,74.2h9.0M489.8,124.8h9.0M491.6,74.2h9.0M491.6,124.8h9.0M493.8,46.0h9.0M493.8,100.3h9.0M496.8,59.7h9.0M496.8,112.2h9.0M498.3,59.7h9.0M498.3,112.2h9.0M501.5,61.3h9.0M501.5,113.6h9.0M502.9,61.3h9.0M502.9,113.6h9.0M506.6,36.3h9.0M506.6,91.9h9.0M508.9,54.1h9.0M508.9,107.3h9.0M511.9,60.5h9.0M511.9,112.9h9.0M513.3,60.5h9.0M513.3,112.9h9.0M514.9,67.8h9.0M514.9,119.2h9.0M517.9,33.9h9.0M517.9,89.8h9.0M520.3,33.9h9.0M520.3,89.8h9.0M523.2,53.2h9.0M523.2,106.6h9.0M525.5,36.3h9.0M525.5,91.9h9.0M527.7,63.7h9.0M527.7,115.7h9.0M529.7,57.3h9.0M529.7,110.1h9.0M531.5,57.3h9.0M531.5,110.1h9.0M535.2,58.9h9.0M535.2,111.5h9.0M537.5,66.1h9.0M537.5,117.8h9.0M538.3,54.1h9.0M538.3,107.3h9.0M541.4,79.0h9.0M541.4,129.0h9.0M542.8,79.0h9.0M542.8,129.0h9.0M545.8,88.7h9.0M545.8,137.4h9.0" stroke="#808000" stroke-width="1" fill="none"/>
<path d="M71.9,313.1L74.2,313.5L76.6,294.4L78.9,292.1L81.3,284.2L83.6,282.1L86.0,275.4L88.3,270.5L91.5,272.9L93.0,272.9L95.4,272.9L97.7,267.0L100.1,267.0L101.7,267.0L103.4,259.3L105.9,260.2L109.4,244.9L111.8,244.9L115.3,244.9L116.5,244.9L118.8,235.6L121.2,235.6L122.0,234.7L125.4,223.7L125.4,223.7L132.2,202.5L133.0,210.2L133.4,209.7L133.9,211.9L138.5,199.5L142.4,201.7L142.7,207.1L144.1,209.3L149.5,178.3L151.2,194.4L154.0,199.5L155.4,199.5L158.8,182.5L161.1,155.4L163.1,155.4L166.4,182.5L168.1,182.5L170.7,174.9L172.8,144.4L174.9,144.4L178.3,156.3L179.2,169.8L182.2,146.1L184.2,146.1L187.6,153.7L189.2,153.7L191.9,138.5L193.6,151.2L195.1,138.8L199.3,115.9L201.0,115.9L203.3,113.4L205.3,113.4L207.8,127.8L210.4,121.9L212.0,121.9L214.6,109.2L218.0,131.2L219.7,104.1L221.4,104.1L223.9,96.4L226.4,132.0L229.1,104.1L230.7,104.1L234.9,129.5L236.2,129.5L238.3,118.5L241.7,104.1L243.2,104.1L245.1,117.6L247.6,87.1L250.2,94.7L252.7,110.8L254.9,110.8L257.8,92.2L259.5,85.4L262.0,85.4L264.6,104.1L266.3,117.6L268.4,94.4L271.4,104.6L272.6,104.6L276.1,75.8L277.7,75.8L280.3,85.9L283.1,91.9L285.3,91.9L287.0,84.2L290.1,95.3L292.1,95.3L293.8,66.4L298.1,111.4L299.5,111.4L301.9,63.9L303.1,63.9L307.4,93.6L308.9,93.6L310.8,101.2L313.3,62.2L315.8,104.6L317.5,69.0L320.7,73.2L322.6,73.2L325.3,79.2L326.9,79.2L331.9,79.9L331.9,80.8L334.5,96.1L335.6,70.5L336.2,70.7L337.5,104.4L338.5,66.7L343.2,52.6L346.9,85.5L350.7,49.8L353.5,49.8L356.4,62.0L358.2,62.0L361.1,82.7L362.9,82.7L364.8,45.1L367.6,51.6L369.5,61.1L372.4,103.4L374.2,54.5L376.1,85.5L378.0,69.5L381.7,78.0L384.6,78.0L386.4,78.0L388.4,78.0L392.1,86.5L393.4,86.5L395.9,90.2L398.1,90.2L401.5,92.1L402.3,92.7L404.5,70.9L405.3,70.5L407.2,82.7L408.1,106.2L409.0,106.3L412.0,79.9L418.1,91.2L421.6,51.3L424.1,51.3L425.6,54.3L429.4,73.9L430.9,73.9L433.9,64.1L435.6,64.1L439.2,98.0L440.3,98.0L443.7,69.4L445.0,69.4L446.7,56.6L449.7,89.7L452.1,72.4L453.5,72.4L456.8,61.8L458.0,61.8L459.5,82.9L463.3,70.1L467.0,79.9L468.5,79.9L470.0,61.1L473.8,89.7L475.5,71.6L476.8,71.6L481.0,64.8L482.6,72.4L484.0,72.4L487.0,88.2L488.5,67.1L492.3,80.7L494.3,99.5L496.1,99.5L498.3,73.1L501.3,85.9L502.8,85.9L506.0,87.4L507.4,87.4L511.1,64.1L513.4,80.7L516.4,86.7L517.8,86.7L519.4,93.5L522.4,61.8L524.8,61.8L527.7,79.9L530.0,64.1L532.2,89.7L534.2,83.7L536.0,83.7L539.7,85.2L542.0,92.0L542.8,80.7L545.9,104.0L547.3,104.0L550.3,113.0" stroke="#808000" stroke-width="1" fill="none"/>
<path d="M68.1,313.1L75.1,309.3L75.1,316.9ZM70.4,313.5L77.5,309.7L77.5,317.3ZM72.8,294.4L79.8,290.6L79.8,298.2ZM75.1,292.1L82.2,288.3L82.2,295.9ZM77.5,284.2L84.5,280.4L84.5,288.0ZM79.8,282.1L86.9,278.3L86.9,285.9ZM82.2,275.4L89.2,271.6L89.2,279.2ZM84.5,270.5L91.6,266.7L91.6,274.3ZM87.7,272.9L94.7,269.1L94.7,276.7ZM89.2,272.9L96.3,269.1L96.3,276.7ZM91.6,272.9L98.6,269.1L98.6,276.7ZM93.9,267.0L100.9,263.2L100.9,270.8ZM96.3,267.0L103.3,263.2L103.3,270.8ZM97.9,267.0L104.9,263.2L104.9,270.8ZM99.6,259.3L106.6,255.5L106.6,263.1ZM102.1,260.2L109.1,256.4L109.1,264.0ZM105.6,244.9L112.7,241.1L112.7,248.7ZM108.0,244.9L115.0,241.1L115.0,248.7ZM111.5,244.9L118.5,241.1L118.5,248.7ZM112.7,244.9L119.7,241.1L119.7,248.7ZM115.0,235.6L122.1,231.8L122.1,239.4ZM117.4,235.6L124.4,231.8L124.4,239.4ZM118.2,234.7L125.3,230.9L125.3,238.5ZM121.6,223.7L128.6,219.9L128.6,227.5ZM121.6,223.7L128.7,219.9L128.7,227.5ZM128.4,202.5L135.4,198.7L135.4,206.3ZM129.2,210.2L136.2,206.4L136.2,214.0ZM129.6,209.7L136.6,205.9L136.6,213.5ZM130.1,211.9L137.1,208.1L137.1,215.7ZM134.7,199.5L141.7,195.7L141.7,203.3ZM138.6,201.7L145.6,197.9L145.6,205.5ZM138.9,207.1L145.9,203.3L145.9,210.9ZM140.3,209.3L147.3,205.5L147.3,213.1ZM145.7,178.3L152.7,174.5L152.7,182.1ZM147.4,194.4L154.4,190.6L154.4,198.2ZM150.2,199.5L157.3,195.7L157.3,203.3ZM151.6,199.5L158.7,195.7L158.7,203.3ZM155.0,182.5L162.0,178.7L162.0,186.3ZM157.3,155.4L164.3,151.6L164.3,159.2ZM159.3,155.4L166.3,151.6L166.3,159.2ZM162.6,182.5L169.7,178.7L169.7,186.3ZM164.3,182.5L171.3,178.7L171.3,186.3ZM166.9,174.9L173.9,171.1L173.9,178.7ZM169.0,144.4L176.0,140.6L176.0,148.2ZM171.1,144.4L178.1,140.6L178.1,148.2ZM174.5,156.3L181.5,152.5L181.5,160.1ZM175.4,169.8L182.4,166.0L182.4,173.6ZM178.4,146.1L185.4,142.3L185.4,149.9ZM180.4,146.1L187.5,142.3L187.5,149.9ZM183.8,153.7L190.9,149.9L190.9,157.5ZM185.4,153.7L192.5,149.9L192.5,157.5ZM188.1,138.5L195.1,134.7L195.1,142.3ZM189.8,151.2L196.8,147.4L196.8,155.0ZM191.3,138.8L198.3,135.0L198.3,142.6ZM195.5,115.9L202.6,112.1L202.6,119.7ZM197.2,115.9L204.2,112.1L204.2,119.7ZM199.5,113.4L206.5,109.6L206.5,117.2ZM201.5,113.4L208.5,109.6L208.5,117.2ZM204.0,127.8L211.0,124.0L211.0,131.6ZM206.6,121.9L213.6,118.1L213.6,125.7ZM208.2,121.9L215.3,118.1L215.3,125.7ZM210.8,109.2L217.8,105.4L217.8,113.0ZM214.2,131.2L221.2,127.4L221.2,135.0ZM215.9,104.1L223.0,100.3L223.0,107.9ZM217.6,104.1L224.6,100.3L224.6,107.9ZM220.1,96.4L227.1,92.6L227.1,100.2ZM222.6,132.0L229.7,128.2L229.7,135.8ZM225.3,104.1L232.4,100.3L232.4,107.9ZM226.9,104.1L233.9,100.3L233.9,107.9ZM231.1,129.5L238.1,125.7L238.1,133.3ZM232.4,129.5L239.4,125.7L239.4,133.3ZM234.5,118.5L241.5,114.7L241.5,122.3ZM237.9,104.1L244.9,100.3L244.9,107.9ZM239.4,104.1L246.4,100.3L246.4,107.9ZM241.3,117.6L248.3,113.8L248.3,121.4ZM243.8,87.1L250.9,83.3L250.9,90.9ZM246.4,94.7L253.4,90.9L253.4,98.5ZM248.9,110.8L255.9,107.0L255.9,114.6ZM251.1,110.8L258.2,107.0L258.2,114.6ZM254.0,92.2L261.0,88.4L261.0,96.0ZM255.7,85.4L262.7,81.6L262.7,89.2ZM258.2,85.4L265.2,81.6L265.2,89.2ZM260.8,104.1L267.8,100.3L267.8,107.9ZM262.5,117.6L269.5,113.8L269.5,121.4ZM264.6,94.4L271.6,90.6L271.6,98.2ZM267.6,104.6L274.6,100.8L274.6,108.4ZM268.8,104.6L275.9,100.8L275.9,108.4ZM272.3,75.8L279.3,72.0L279.3,79.6ZM273.9,75.8L280.9,72.0L280.9,79.6ZM276.5,85.9L283.5,82.1L283.5,89.7ZM279.3,91.9L286.3,88.1L286.3,95.7ZM281.5,91.9L288.6,88.1L288.6,95.7ZM283.2,84.2L290.3,80.4L290.3,88.0ZM286.3,95.3L293.4,91.5L293.4,99.1ZM288.3,95.3L295.3,91.5L295.3,99.1ZM290.0,66.4L297.0,62.6L297.0,70.2ZM294.3,111.4L301.3,107.6L301.3,115.2ZM295.7,111.4L302.8,107.6L302.8,115.2ZM298.1,63.9L305.1,60.1L305.1,67.7ZM299.3,63.9L306.4,60.1L306.4,67.7ZM303.6,93.6L310.6,89.8L310.6,97.4ZM305.1,93.6L312.1,89.8L312.1,97.4ZM307.0,101.2L314.0,97.4L314.0,105.0ZM309.5,62.2L316.5,58.4L316.5,66.0ZM312.0,104.6L319.1,100.8L319.1,108.4ZM313.7,69.0L320.8,65.2L320.8,72.8ZM316.9,73.2L323.9,69.4L323.9,77.0ZM318.8,73.2L325.9,69.4L325.9,77.0ZM321.5,79.2L328.6,75.4L328.6,83.0ZM323.1,79.2L330.1,75.4L330.1,83.0ZM328.1,79.9L335.1,76.1L335.1,83.7ZM328.1,80.8L335.2,77.0L335.2,84.6ZM330.7,96.1L337.7,92.3L337.7,99.9ZM331.8,70.5L338.9,66.7L338.9,74.3ZM332.4,70.7L339.4,66.9L339.4,74.5ZM333.7,104.4L340.8,100.6L340.8,108.2ZM334.7,66.7L341.7,62.9L341.7,70.5ZM339.4,52.6L346.4,48.8L346.4,56.4ZM343.1,85.5L350.2,81.7L350.2,89.3ZM346.9,49.8L353.9,46.0L353.9,53.6ZM349.7,49.8L356.7,46.0L356.7,53.6ZM352.6,62.0L359.6,58.2L359.6,65.8ZM354.4,62.0L361.4,58.2L361.4,65.8ZM357.3,82.7L364.3,78.9L364.3,86.5ZM359.1,82.7L366.1,78.9L366.1,86.5ZM361.0,45.1L368.1,41.3L368.1,48.9ZM363.8,51.6L370.9,47.8L370.9,55.4ZM365.7,61.1L372.8,57.3L372.8,64.9ZM368.6,103.4L375.6,99.6L375.6,107.2ZM370.4,54.5L377.5,50.7L377.5,58.3ZM372.3,85.5L379.3,81.7L379.3,89.3ZM374.2,69.5L381.2,65.7L381.2,73.3ZM377.9,78.0L384.9,74.2L384.9,81.8ZM380.8,78.0L387.8,74.2L387.8,81.8ZM382.6,78.0L389.6,74.2L389.6,81.8ZM384.6,78.0L391.6,74.2L391.6,81.8ZM388.3,86.5L395.3,82.7L395.3,90.3ZM389.6,86.5L396.6,82.7L396.6,90.3ZM392.1,90.2L399.1,86.4L399.1,94.0ZM394.3,90.2L401.3,86.4L401.3,94.0ZM397.7,92.1L404.8,88.3L404.8,95.9ZM398.5,92.7L405.5,88.9L405.5,96.5ZM400.7,70.9L407.7,67.1L407.7,74.7ZM401.5,70.5L408.5,66.7L408.5,74.3ZM403.4,82.7L410.4,78.9L410.4,86.5ZM404.3,106.2L411.3,102.4L411.3,110.0ZM405.2,106.3L412.3,102.5L412.3,110.1ZM408.2,79.9L415.3,76.1L415.3,83.7ZM414.3,91.2L421.3,87.4L421.3,95.0ZM417.8,51.3L424.8,47.5L424.8,55.1ZM420.3,51.3L427.3,47.5L427.3,55.1ZM421.8,54.3L428.8,50.5L428.8,58.1ZM425.6,73.9L432.6,70.1L432.6,77.7ZM427.1,73.9L434.2,70.1L434.2,77.7ZM430.1,64.1L437.1,60.3L437.1,67.9ZM431.8,64.1L438.9,60.3L438.9,67.9ZM435.4,98.0L442.4,94.2L442.4,101.8ZM436.5,98.0L443.6,94.2L443.6,101.8ZM439.9,69.4L446.9,65.6L446.9,73.2ZM441.2,69.4L448.3,65.6L448.3,73.2ZM442.9,56.6L449.9,52.8L449.9,60.4ZM445.9,89.7L452.9,85.9L452.9,93.5ZM448.3,72.4L455.3,68.6L455.3,76.2ZM449.7,72.4L456.7,68.6L456.7,76.2ZM453.0,61.8L460.0,58.0L460.0,65.6ZM454.2,61.8L461.2,58.0L461.2,65.6ZM455.7,82.9L462.7,79.1L462.7,86.7ZM459.5,70.1L466.5,66.3L466.5,73.9ZM463.2,79.9L470.2,76.1L470.2,83.7ZM464.7,79.9L471.7,76.1L471.7,83.7ZM466.2,61.1L473.3,57.3L473.3,64.9ZM470.0,89.7L477.0,85.9L477.0,93.5ZM471.7,71.6L478.8,67.8L478.8,75.4ZM473.0,71.6L480.0,67.8L480.0,75.4ZM477.2,64.8L484.2,61.0L484.2,68.6ZM478.8,72.4L485.8,68.6L485.8,76.2ZM480.2,72.4L487.3,68.6L487.3,76.2ZM483.2,88.2L490.3,84.4L490.3,92.0ZM484.7,67.1L491.8,63.3L491.8,70.9ZM488.5,80.7L495.5,76.9L495.5,84.5ZM490.5,99.5L497.5,95.7L497.5,103.3ZM492.3,99.5L499.3,95.7L499.3,103.3ZM494.5,73.1L501.6,69.3L501.6,76.9ZM497.5,85.9L504.6,82.1L504.6,89.7ZM499.0,85.9L506.1,82.1L506.1,89.7ZM502.2,87.4L509.3,83.6L509.3,91.2ZM503.6,87.4L510.6,83.6L510.6,91.2ZM507.3,64.1L514.4,60.3L514.4,67.9ZM509.6,80.7L516.6,76.9L516.6,84.5ZM512.6,86.7L519.6,82.9L519.6,90.5ZM514.0,86.7L521.0,82.9L521.0,90.5ZM515.6,93.5L522.6,89.7L522.6,97.3ZM518.6,61.8L525.7,58.0L525.7,65.6ZM521.0,61.8L528.0,58.0L528.0,65.6ZM523.9,79.9L530.9,76.1L530.9,83.7ZM526.2,64.1L533.2,60.3L533.2,67.9ZM528.4,89.7L535.4,85.9L535.4,93.5ZM530.4,83.7L537.4,79.9L537.4,87.5ZM532.2,83.7L539.2,79.9L539.2,87.5ZM535.9,85.2L543.0,81.4L543.0,89.0ZM538.2,92.0L545.2,88.2L545.2,95.8ZM539.0,80.7L546.0,76.9L546.0,84.5ZM542.1,104.0L549.2,100.2L549.2,107.8ZM543.5,104.0L550.5,100.2L550.5,107.8ZM546.5,113.0L553.5,109.2L553.5,116.8Z" fill="#808000"/>
<path d="M71.9,278.0V309.2M74.2,278.0V309.1M76.6,280.2V311.3M78.9,290.9V322.1M81.3,276.3V307.4M83.6,282.3V313.4M86.0,284.1V315.3M88.3,277.5V308.6M90.7,282.8V313.9M93.0,279.9V311.1M95.4,273.7V304.8M97.7,278.5V309.7M100.1,272.5V303.6M102.4,272.3V303.4M104.8,262.7V293.9M106.8,259.0V290.2M109.4,259.0V290.2M111.8,251.4V282.6M114.4,251.4V282.6M116.5,251.4V282.6M118.8,243.6V275.0M120.3,243.6V275.0M122.0,253.9V285.1M125.9,241.8V273.4M128.2,241.8V273.4M129.7,241.8V273.4M132.9,244.2V275.6M135.6,236.3V268.7M137.6,236.3V268.7M140.0,233.6V266.4M142.2,233.6V266.4M142.4,232.7V265.7M147.5,228.2V261.8M149.3,228.2V261.8M151.7,216.2V251.6M154.2,216.2V251.6M156.7,224.3V258.5M158.7,224.3V258.5M161.0,208.0V244.6M163.4,208.0V244.6M165.8,199.7V237.5M167.8,199.7V237.5M170.5,199.7V237.5M172.8,215.2V250.8M174.6,215.2V250.8M177.5,202.3V239.7M179.8,202.3V239.7M182.6,206.9V243.7M185.2,193.1V231.9M186.9,211.5V247.5M189.4,189.6V228.8M191.1,208.8V245.2M194.5,185.9V225.7M197.0,189.6V228.8M198.6,189.6V228.8M200.4,175.8V217.0M203.8,204.1V241.3M205.7,204.1V241.3M208.9,184.1V224.1M211.4,189.6V228.8M212.7,189.6V228.8M214.8,153.9V198.3M218.2,179.4V220.2M219.7,179.4V220.2M222.5,145.7V191.3M224.2,191.3V230.3M227.5,162.1V205.3M229.1,162.1V205.3M231.8,154.9V199.1M233.5,208.8V245.2M236.9,150.2V195.2M237.7,170.4V212.4M240.9,148.4V193.6M242.8,148.4V193.6M246.2,174.9V216.3M247.9,174.9V216.3M250.2,163.9V206.9M252.1,163.9V206.9M253.4,164.5V207.3M258.5,177.3V218.3M259.3,193.7V232.3M262.0,193.7V232.3M263.6,193.7V232.3M265.3,145.3V190.9M267.0,188.3V227.7M270.3,159.0V202.6M273.7,193.7V232.3M276.3,136.2V183.2M278.4,143.4V189.4M280.5,143.4V189.4M281.4,164.5V207.3M286.4,136.2V183.2M287.8,136.2V183.2M290.1,146.2V191.8M291.5,146.2V191.8M294.9,132.5V180.1M298.3,138.9V185.5M299.5,138.9V185.5M300.8,146.2V191.8M304.2,143.4V189.4M306.8,168.1V210.5M307.6,155.4V199.6M311.9,127.9V176.1M313.6,146.2V191.8M315.3,146.2V191.8M318.6,140.7V187.1M321.2,118.9V168.3M323.0,109.7V160.5M324.6,109.7V160.5M326.7,110.0V160.8M330.1,159.4V203.0M332.6,117.3V167.1M334.7,128.3V176.5M336.0,128.3V176.5M339.4,141.1V187.3M342.0,110.0V160.8M344.5,117.3V167.1M347.0,129.2V177.2M348.8,129.2V177.2M352.1,129.2V177.2M353.5,129.2V177.2M356.4,109.2V160.0M358.0,90.8V144.4M360.6,107.3V158.5M363.1,153.0V197.6M365.7,121.0V170.2M367.6,121.0V170.2M369.9,125.5V174.1M372.5,140.2V186.6M375.0,117.3V167.1M377.0,117.3V167.1M380.1,121.9V170.9M381.7,121.9V170.9M384.3,115.5V165.5M386.4,115.5V165.5M388.6,129.2V177.2M391.1,99.1V151.5M392.8,99.1V151.5M396.2,121.0V170.2M398.7,130.2V178.0M400.4,130.2V178.0M403.0,140.2V186.6M405.1,110.0V160.8M407.2,110.0V160.8M410.6,137.4V184.2M412.2,137.4V184.2M414.5,119.2V168.6M416.5,119.2V168.6M419.9,132.0V179.6M421.6,116.1V166.0M423.0,116.1V166.0M426.0,140.5V186.9M429.0,147.0V192.4M430.9,147.0V192.4M434.3,135.6V182.7M435.1,122.6V171.6M438.0,137.3V184.1M439.6,137.3V184.1M443.3,119.4V168.8M445.0,119.4V168.8M447.1,140.5V186.9M449.7,117.8V167.4M451.6,117.8V167.4M454.6,151.1V195.9M456.1,137.3V184.1M459.2,104.8V156.3M461.5,130.8V178.5M463.7,130.8V178.5M466.7,137.3V184.1M468.5,137.3V184.1M471.2,138.9V185.5M473.5,127.5V175.7M475.5,127.5V175.7M478.0,136.4V183.4M480.2,148.6V193.8M482.6,127.5V175.7M484.8,127.5V175.7M487.0,156.7V200.7M489.6,156.7V200.7M492.0,153.5V198.0M493.8,153.5V198.0M496.8,140.5V186.9M499.0,145.4V191.0M501.3,137.6V184.3M503.7,145.7V191.3M506.0,127.6V175.8M508.4,149.4V194.4M510.5,164.5V207.3M513.1,164.5V207.3M515.4,165.4V208.2M518.0,165.4V208.2M519.9,137.1V183.9M522.7,122.8V171.8" stroke="#FF00FF" stroke-width="0.9" fill="none"/>
<path d="M67.4,278.0h9.0M67.4,309.2h9.0M69.7,278.0h9.0M69.7,309.1h9.0M72.1,280.2h9.0M72.1,311.3h9.0M74.4,290.9h9.0M74.4,322.1h9.0M76.8,276.3h9.0M76.8,307.4h9.0M79.1,282.3h9.0M79.1,313.4h9.0M81.5,284.1h9.0M81.5,315.3h9.0M83.8,277.5h9.0M83.8,308.6h9.0M86.2,282.8h9.0M86.2,313.9h9.0M88.5,279.9h9.0M88.5,311.1h9.0M90.9,273.7h9.0M90.9,304.8h9.0M93.2,278.5h9.0M93.2,309.7h9.0M95.6,272.5h9.0M95.6,303.6h9.0M97.9,272.3h9.0M97.9,303.4h9.0M100.3,262.7h9.0M100.3,293.9h9.0M102.3,259.0h9.0M102.3,290.2h9.0M104.9,259.0h9.0M104.9,290.2h9.0M107.3,251.4h9.0M107.3,282.6h9.0M109.9,251.4h9.0M109.9,282.6h9.0M112.0,251.4h9.0M112.0,282.6h9.0M114.3,243.6h9.0M114.3,275.0h9.0M115.8,243.6h9.0M115.8,275.0h9.0M117.5,253.9h9.0M117.5,285.1h9.0M121.4,241.8h9.0M121.4,273.4h9.0M123.7,241.8h9.0M123.7,273.4h9.0M125.2,241.8h9.0M125.2,273.4h9.0M128.4,244.2h9.0M128.4,275.6h9.0M131.1,236.3h9.0M131.1,268.7h9.0M133.1,236.3h9.0M133.1,268.7h9.0M135.5,233.6h9.0M135.5,266.4h9.0M137.7,233.6h9.0M137.7,266.4h9.0M137.9,232.7h9.0M137.9,265.7h9.0M143.0,228.2h9.0M143.0,261.8h9.0M144.8,228.2h9.0M144.8,261.8h9.0M147.2,216.2h9.0M147.2,251.6h9.0M149.7,216.2h9.0M149.7,251.6h9.0M152.2,224.3h9.0M152.2,258.5h9.0M154.2,224.3h9.0M154.2,258.5h9.0M156.5,208.0h9.0M156.5,244.6h9.0M158.9,208.0h9.0M158.9,244.6h9.0M161.3,199.7h9.0M161.3,237.5h9.0M163.3,199.7h9.0M163.3,237.5h9.0M166.0,199.7h9.0M166.0,237.5h9.0M168.3,215.2h9.0M168.3,250.8h9.0M170.1,215.2h9.0M170.1,250.8h9.0M173.0,202.3h9.0M173.0,239.7h9.0M175.3,202.3h9.0M175.3,239.7h9.0M178.1,206.9h9.0M178.1,243.7h9.0M180.7,193.1h9.0M180.7,231.9h9.0M182.4,211.5h9.0M182.4,247.5h9.0M184.9,189.6h9.0M184.9,228.8h9.0M186.6,208.8h9.0M186.6,245.2h9.0M190.0,185.9h9.0M190.0,225.7h9.0M192.5,189.6h9.0M192.5,228.8h9.0M194.1,189.6h9.0M194.1,228.8h9.0M195.9,175.8h9.0M195.9,217.0h9.0M199.3,204.1h9.0M199.3,241.3h9.0M201.2,204.1h9.0M201.2,241.3h9.0M204.4,184.1h9.0M204.4,224.1h9.0M206.9,189.6h9.0M206.9,228.8h9.0M208.2,189.6h9.0M208.2,228.8h9.0M210.3,153.9h9.0M210.3,198.3h9.0M213.7,179.4h9.0M213.7,220.2h9.0M215.2,179.4h9.0M215.2,220.2h9.0M218.0,145.7h9.0M218.0,191.3h9.0M219.7,191.3h9.0M219.7,230.3h9.0M223.0,162.1h9.0M223.0,205.3h9.0M224.6,162.1h9.0M224.6,205.3h9.0M227.3,154.9h9.0M227.3,199.1h9.0M229.0,208.8h9.0M229.0,245.2h9.0M232.4,150.2h9.0M232.4,195.2h9.0M233.2,170.4h9.0M233.2,212.4h9.0M236.4,148.4h9.0M236.4,193.6h9.0M238.3,148.4h9.0M238.3,193.6h9.0M241.7,174.9h9.0M241.7,216.3h9.0M243.4,174.9h9.0M243.4,216.3h9.0M245.7,163.9h9.0M245.7,206.9h9.0M247.6,163.9h9.0M247.6,206.9h9.0M248.9,164.5h9.0M248.9,207.3h9.0M254.0,177.3h9.0M254.0,218.3h9.0M254.8,193.7h9.0M254.8,232.3h9.0M257.5,193.7h9.0M257.5,232.3h9.0M259.1,193.7h9.0M259.1,232.3h9.0M260.8,145.3h9.0M260.8,190.9h9.0M262.5,188.3h9.0M262.5,227.7h9.0M265.8,159.0h9.0M265.8,202.6h9.0M269.2,193.7h9.0M269.2,232.3h9.0M271.8,136.2h9.0M271.8,183.2h9.0M273.9,143.4h9.0M273.9,189.4h9.0M276.0,143.4h9.0M276.0,189.4h9.0M276.9,164.5h9.0M276.9,207.3h9.0M281.9,136.2h9.0M281.9,183.2h9.0M283.3,136.2h9.0M283.3,183.2h9.0M285.6,146.2h9.0M285.6,191.8h9.0M287.0,146.2h9.0M287.0,191.8h9.0M290.4,132.5h9.0M290.4,180.1h9.0M293.8,138.9h9.0M293.8,185.5h9.0M295.0,138.9h9.0M295.0,185.5h9.0M296.3,146.2h9.0M296.3,191.8h9.0M299.7,143.4h9.0M299.7,189.4h9.0M302.3,168.1h9.0M302.3,210.5h9.0M303.1,155.4h9.0M303.1,199.6h9.0M307.4,127.9h9.0M307.4,176.1h9.0M309.1,146.2h9.0M309.1,191.8h9.0M310.8,146.2h9.0M310.8,191.8h9.0M314.1,140.7h9.0M314.1,187.1h9.0M316.7,118.9h9.0M316.7,168.3h9.0M318.5,109.7h9.0M318.5,160.5h9.0M320.1,109.7h9.0M320.1,160.5h9.0M322.2,110.0h9.0M322.2,160.8h9.0M325.6,159.4h9.0M325.6,203.0h9.0M328.1,117.3h9.0M328.1,167.1h9.0M330.2,128.3h9.0M330.2,176.5h9.0M331.5,128.3h9.0M331.5,176.5h9.0M334.9,141.1h9.0M334.9,187.3h9.0M337.5,110.0h9.0M337.5,160.8h9.0M340.0,117.3h9.0M340.0,167.1h9.0M342.5,129.2h9.0M342.5,177.2h9.0M344.3,129.2h9.0M344.3,177.2h9.0M347.6,129.2h9.0M347.6,177.2h9.0M349.0,129.2h9.0M349.0,177.2h9.0M351.9,109.2h9.0M351.9,160.0h9.0M353.5,90.8h9.0M353.5,144.4h9.0M356.1,107.3h9.0M356.1,158.5h9.0M358.6,153.0h9.0M358.6,197.6h9.0M361.2,121.0h9.0M361.2,170.2h9.0M363.1,121.0h9.0M363.1,170.2h9.0M365.4,125.5h9.0M365.4,174.1h9.0M368.0,140.2h9.0M368.0,186.6h9.0M370.5,117.3h9.0M370.5,167.1h9.0M372.5,117.3h9.0M372.5,167.1h9.0M375.6,121.9h9.0M375.6,170.9h9.0M377.2,121.9h9.0M377.2,170.9h9.0M379.8,115.5h9.0M379.8,165.5h9.0M381.9,115.5h9.0M381.9,165.5h9.0M384.1,129.2h9.0M384.1,177.2h9.0M386.6,99.1h9.0M386.6,151.5h9.0M388.3,99.1h9.0M388.3,151.5h9.0M391.7,121.0h9.0M391.7,170.2h9.0M394.2,130.2h9.0M394.2,178.0h9.0M395.9,130.2h9.0M395.9,178.0h9.0M398.5,140.2h9.0M398.5,186.6h9.0M400.6,110.0h9.0M400.6,160.8h9.0M402.7,110.0h9.0M402.7,160.8h9.0M406.1,137.4h9.0M406.1,184.2h9.0M407.7,137.4h9.0M407.7,184.2h9.0M410.0,119.2h9.0M410.0,168.6h9.0M412.0,119.2h9.0M412.0,168.6h9.0M415.4,132.0h9.0M415.4,179.6h9.0M417.1,116.1h9.0M417.1,166.0h9.0M418.5,116.1h9.0M418.5,166.0h9.0M421.5,140.5h9.0M421.5,186.9h9.0M424.5,147.0h9.0M424.5,192.4h9.0M426.4,147.0h9.0M426.4,192.4h9.0M429.8,135.6h9.0M429.8,182.7h9.0M430.6,122.6h9.0M430.6,171.6h9.0M433.5,137.3h9.0M433.5,184.1h9.0M435.1,137.3h9.0M435.1,184.1h9.0M438.8,119.4h9.0M438.8,168.8h9.0M440.5,119.4h9.0M440.5,168.8h9.0M442.6,140.5h9.0M442.6,186.9h9.0M445.2,117.8h9.0M445.2,167.4h9.0M447.1,117.8h9.0M447.1,167.4h9.0M450.1,151.1h9.0M450.1,195.9h9.0M451.6,137.3h9.0M451.6,184.1h9.0M454.7,104.8h9.0M454.7,156.3h9.0M457.0,130.8h9.0M457.0,178.5h9.0M459.2,130.8h9.0M459.2,178.5h9.0M462.2,137.3h9.0M462.2,184.1h9.0M464.0,137.3h9.0M464.0,184.1h9.0M466.7,138.9h9.0M466.7,185.5h9.0M469.0,127.5h9.0M469.0,175.7h9.0M471.0,127.5h9.0M471.0,175.7h9.0M473.5,136.4h9.0M473.5,183.4h9.0M475.7,148.6h9.0M475.7,193.8h9.0M478.1,127.5h9.0M478.1,175.7h9.0M480.3,127.5h9.0M480.3,175.7h9.0M482.5,156.7h9.0M482.5,200.7h9.0M485.1,156.7h9.0M485.1,200.7h9.0M487.5,153.5h9.0M487.5,198.0h9.0M489.3,153.5h9.0M489.3,198.0h9.0M492.3,140.5h9.0M492.3,186.9h9.0M494.5,145.4h9.0M494.5,191.0h9.0M496.8,137.6h9.0M496.8,184.3h9.0M499.2,145.7h9.0M499.2,191.3h9.0M501.5,127.6h9.0M501.5,175.8h9.0M503.9,149.4h9.0M503.9,194.4h9.0M506.0,164.5h9.0M506.0,207.3h9.0M508.6,164.5h9.0M508.6,207.3h9.0M510.9,165.4h9.0M510.9,208.2h9.0M513.5,165.4h9.0M513.5,208.2h9.0M515.4,137.1h9.0M515.4,183.9h9.0M518.2,122.8h9.0M518.2,171.8h9.0" stroke="#FF00FF" stroke-width="1" fill="none"/>
<path d="M71.9,293.6L74.2,293.6L76.6,295.8L78.9,306.5L81.3,291.8L83.6,297.8L86.0,299.7L88.3,293.1L90.7,298.4L93.0,295.5L95.4,289.3L97.7,294.1L100.1,288.0L102.4,287.8L104.8,278.3L106.8,274.6L109.4,274.6L111.8,267.0L114.4,267.0L116.5,267.0L118.8,259.3L120.3,259.3L122.0,269.5L125.9,257.6L128.2,257.6L129.7,257.6L132.9,259.9L135.6,252.5L137.6,252.5L140.0,250.0L142.2,250.0L142.4,249.2L147.5,245.0L149.3,245.0L151.7,233.9L154.2,233.9L156.7,241.4L158.7,241.4L161.0,226.3L163.4,226.3L165.8,218.6L167.8,218.6L170.5,218.6L172.8,233.0L174.6,233.0L177.5,221.0L179.8,221.0L182.6,225.3L185.2,212.5L186.9,229.5L189.4,209.2L191.1,227.0L194.5,205.8L197.0,209.2L198.6,209.2L200.4,196.4L203.8,222.7L205.7,222.7L208.9,204.1L211.4,209.2L212.7,209.2L214.8,176.1L218.2,199.8L219.7,199.8L222.5,168.5L224.2,210.8L227.5,183.7L229.1,183.7L231.8,177.0L233.5,227.0L236.9,172.7L237.7,191.4L240.9,171.0L242.8,171.0L246.2,195.6L247.9,195.6L250.2,185.4L252.1,185.4L253.4,185.9L258.5,197.8L259.3,213.0L262.0,213.0L263.6,213.0L265.3,168.1L267.0,208.0L270.3,180.8L273.7,213.0L276.3,159.7L278.4,166.4L280.5,166.4L281.4,185.9L286.4,159.7L287.8,159.7L290.1,169.0L291.5,169.0L294.9,156.3L298.3,162.2L299.5,162.2L300.8,169.0L304.2,166.4L306.8,189.3L307.6,177.5L311.9,152.0L313.6,169.0L315.3,169.0L318.6,163.9L321.2,143.6L323.0,135.1L324.6,135.1L326.7,135.4L330.1,181.2L332.6,142.2L334.7,152.4L336.0,152.4L339.4,164.2L342.0,135.4L344.5,142.2L347.0,153.2L348.8,153.2L352.1,153.2L353.5,153.2L356.4,134.6L358.0,117.6L360.6,132.9L363.1,175.3L365.7,145.6L367.6,145.6L369.9,149.8L372.5,163.4L375.0,142.2L377.0,142.2L380.1,146.4L381.7,146.4L384.3,140.5L386.4,140.5L388.6,153.2L391.1,125.3L392.8,125.3L396.2,145.6L398.7,154.1L400.4,154.1L403.0,163.4L405.1,135.4L407.2,135.4L410.6,160.8L412.2,160.8L414.5,143.9L416.5,143.9L419.9,155.8L421.6,141.1L423.0,141.1L426.0,163.7L429.0,169.7L430.9,169.7L434.3,159.2L435.1,147.1L438.0,160.7L439.6,160.7L443.3,144.1L445.0,144.1L447.1,163.7L449.7,142.6L451.6,142.6L454.6,173.5L456.1,160.7L459.2,130.5L461.5,154.6L463.7,154.6L466.7,160.7L468.5,160.7L471.2,162.2L473.5,151.6L475.5,151.6L478.0,159.9L480.2,171.2L482.6,151.6L484.8,151.6L487.0,178.7L489.6,178.7L492.0,175.7L493.8,175.7L496.8,163.7L499.0,168.2L501.3,161.0L503.7,168.5L506.0,151.7L508.4,171.9L510.5,185.9L513.1,185.9L515.4,186.8L518.0,186.8L519.9,160.5L522.7,147.3" stroke="#FF00FF" stroke-width="1" fill="none"/>
<path d="M68.2,290.4L75.6,290.4L71.9,297.3ZM70.5,290.4L77.9,290.4L74.2,297.3ZM72.9,292.6L80.3,292.6L76.6,299.5ZM75.2,303.3L82.6,303.3L78.9,310.2ZM77.6,288.7L85.0,288.7L81.3,295.5ZM79.9,294.7L87.3,294.7L83.6,301.5ZM82.3,296.6L89.7,296.6L86.0,303.4ZM84.6,289.9L92.0,289.9L88.3,296.8ZM87.0,295.2L94.4,295.2L90.7,302.1ZM89.3,292.4L96.7,292.4L93.0,299.2ZM91.7,286.1L99.1,286.1L95.4,293.0ZM94.0,290.9L101.4,290.9L97.7,297.8ZM96.4,284.9L103.8,284.9L100.1,291.7ZM98.7,284.7L106.1,284.7L102.4,291.5ZM101.1,275.1L108.5,275.1L104.8,282.0ZM103.1,271.5L110.5,271.5L106.8,278.3ZM105.7,271.5L113.1,271.5L109.4,278.3ZM108.1,263.9L115.5,263.9L111.8,270.7ZM110.7,263.9L118.1,263.9L114.4,270.7ZM112.8,263.9L120.2,263.9L116.5,270.7ZM115.1,256.2L122.5,256.2L118.8,263.0ZM116.6,256.2L124.0,256.2L120.3,263.0ZM118.3,266.4L125.7,266.4L122.0,273.2ZM122.2,254.5L129.6,254.5L125.9,261.3ZM124.5,254.5L131.9,254.5L128.2,261.3ZM126.0,254.5L133.4,254.5L129.7,261.3ZM129.2,256.8L136.6,256.8L132.9,263.6ZM131.9,249.4L139.3,249.4L135.6,256.2ZM133.9,249.4L141.3,249.4L137.6,256.2ZM136.3,246.9L143.7,246.9L140.0,253.7ZM138.5,246.9L145.9,246.9L142.2,253.7ZM138.7,246.1L146.1,246.1L142.4,252.9ZM143.8,241.9L151.2,241.9L147.5,248.7ZM145.6,241.9L153.0,241.9L149.3,248.7ZM148.0,230.8L155.4,230.8L151.7,237.6ZM150.5,230.8L157.9,230.8L154.2,237.6ZM153.0,238.3L160.4,238.3L156.7,245.1ZM155.0,238.3L162.4,238.3L158.7,245.1ZM157.3,223.2L164.7,223.2L161.0,230.0ZM159.7,223.2L167.1,223.2L163.4,230.0ZM162.1,215.5L169.5,215.5L165.8,222.3ZM164.1,215.5L171.5,215.5L167.8,222.3ZM166.8,215.5L174.2,215.5L170.5,222.3ZM169.1,229.9L176.5,229.9L172.8,236.7ZM170.9,229.9L178.3,229.9L174.6,236.7ZM173.8,217.9L181.2,217.9L177.5,224.7ZM176.1,217.9L183.5,217.9L179.8,224.7ZM178.9,222.2L186.3,222.2L182.6,229.0ZM181.5,209.4L188.9,209.4L185.2,216.2ZM183.2,226.4L190.6,226.4L186.9,233.2ZM185.7,206.1L193.1,206.1L189.4,212.9ZM187.4,223.9L194.8,223.9L191.1,230.7ZM190.8,202.7L198.2,202.7L194.5,209.5ZM193.3,206.1L200.7,206.1L197.0,212.9ZM194.9,206.1L202.3,206.1L198.6,212.9ZM196.7,193.3L204.1,193.3L200.4,200.1ZM200.1,219.6L207.5,219.6L203.8,226.4ZM202.0,219.6L209.4,219.6L205.7,226.4ZM205.2,201.0L212.6,201.0L208.9,207.8ZM207.7,206.1L215.1,206.1L211.4,212.9ZM209.0,206.1L216.4,206.1L212.7,212.9ZM211.1,173.0L218.5,173.0L214.8,179.8ZM214.5,196.7L221.9,196.7L218.2,203.5ZM216.0,196.7L223.4,196.7L219.7,203.5ZM218.8,165.4L226.2,165.4L222.5,172.2ZM220.5,207.7L227.9,207.7L224.2,214.5ZM223.8,180.6L231.2,180.6L227.5,187.4ZM225.4,180.6L232.8,180.6L229.1,187.4ZM228.1,173.9L235.5,173.9L231.8,180.7ZM229.8,223.9L237.2,223.9L233.5,230.7ZM233.2,169.6L240.6,169.6L236.9,176.4ZM234.0,188.3L241.4,188.3L237.7,195.1ZM237.2,167.9L244.6,167.9L240.9,174.7ZM239.1,167.9L246.5,167.9L242.8,174.7ZM242.5,192.5L249.9,192.5L246.2,199.3ZM244.2,192.5L251.6,192.5L247.9,199.3ZM246.5,182.3L253.9,182.3L250.2,189.1ZM248.4,182.3L255.8,182.3L252.1,189.1ZM249.7,182.8L257.1,182.8L253.4,189.6ZM254.8,194.7L262.2,194.7L258.5,201.5ZM255.6,209.9L263.0,209.9L259.3,216.7ZM258.3,209.9L265.7,209.9L262.0,216.7ZM259.9,209.9L267.3,209.9L263.6,216.7ZM261.6,165.0L269.0,165.0L265.3,171.8ZM263.3,204.9L270.7,204.9L267.0,211.7ZM266.6,177.7L274.0,177.7L270.3,184.5ZM270.0,209.9L277.4,209.9L273.7,216.7ZM272.6,156.6L280.0,156.6L276.3,163.4ZM274.7,163.3L282.1,163.3L278.4,170.1ZM276.8,163.3L284.2,163.3L280.5,170.1ZM277.7,182.8L285.1,182.8L281.4,189.6ZM282.7,156.6L290.1,156.6L286.4,163.4ZM284.1,156.6L291.5,156.6L287.8,163.4ZM286.4,165.9L293.8,165.9L290.1,172.7ZM287.8,165.9L295.2,165.9L291.5,172.7ZM291.2,153.2L298.6,153.2L294.9,160.0ZM294.6,159.1L302.0,159.1L298.3,165.9ZM295.8,159.1L303.2,159.1L299.5,165.9ZM297.1,165.9L304.5,165.9L300.8,172.7ZM300.5,163.3L307.9,163.3L304.2,170.1ZM303.1,186.2L310.5,186.2L306.8,193.0ZM303.9,174.4L311.3,174.4L307.6,181.2ZM308.2,148.9L315.6,148.9L311.9,155.7ZM309.9,165.9L317.3,165.9L313.6,172.7ZM311.6,165.9L319.0,165.9L315.3,172.7ZM314.9,160.8L322.3,160.8L318.6,167.6ZM317.5,140.5L324.9,140.5L321.2,147.3ZM319.3,132.0L326.7,132.0L323.0,138.8ZM320.9,132.0L328.3,132.0L324.6,138.8ZM323.0,132.3L330.4,132.3L326.7,139.1ZM326.4,178.1L333.8,178.1L330.1,184.9ZM328.9,139.1L336.3,139.1L332.6,145.9ZM331.0,149.3L338.4,149.3L334.7,156.1ZM332.3,149.3L339.7,149.3L336.0,156.1ZM335.7,161.1L343.1,161.1L339.4,167.9ZM338.3,132.3L345.7,132.3L342.0,139.1ZM340.8,139.1L348.2,139.1L344.5,145.9ZM343.3,150.1L350.7,150.1L347.0,156.9ZM345.1,150.1L352.5,150.1L348.8,156.9ZM348.4,150.1L355.8,150.1L352.1,156.9ZM349.8,150.1L357.2,150.1L353.5,156.9ZM352.7,131.5L360.1,131.5L356.4,138.3ZM354.3,114.5L361.7,114.5L358.0,121.3ZM356.9,129.8L364.3,129.8L360.6,136.6ZM359.4,172.2L366.8,172.2L363.1,179.0ZM362.0,142.5L369.4,142.5L365.7,149.3ZM363.9,142.5L371.3,142.5L367.6,149.3ZM366.2,146.7L373.6,146.7L369.9,153.5ZM368.8,160.3L376.2,160.3L372.5,167.1ZM371.3,139.1L378.7,139.1L375.0,145.9ZM373.3,139.1L380.7,139.1L377.0,145.9ZM376.4,143.3L383.8,143.3L380.1,150.1ZM378.0,143.3L385.4,143.3L381.7,150.1ZM380.6,137.4L388.0,137.4L384.3,144.2ZM382.7,137.4L390.1,137.4L386.4,144.2ZM384.9,150.1L392.3,150.1L388.6,156.9ZM387.4,122.2L394.8,122.2L391.1,129.0ZM389.1,122.2L396.5,122.2L392.8,129.0ZM392.5,142.5L399.9,142.5L396.2,149.3ZM395.0,151.0L402.4,151.0L398.7,157.8ZM396.7,151.0L404.1,151.0L400.4,157.8ZM399.3,160.3L406.7,160.3L403.0,167.1ZM401.4,132.3L408.8,132.3L405.1,139.1ZM403.5,132.3L410.9,132.3L407.2,139.1ZM406.9,157.7L414.3,157.7L410.6,164.5ZM408.5,157.7L415.9,157.7L412.2,164.5ZM410.8,140.8L418.2,140.8L414.5,147.6ZM412.8,140.8L420.2,140.8L416.5,147.6ZM416.2,152.7L423.6,152.7L419.9,159.5ZM417.9,137.9L425.3,137.9L421.6,144.8ZM419.3,137.9L426.7,137.9L423.0,144.8ZM422.3,160.5L429.7,160.5L426.0,167.4ZM425.3,166.6L432.7,166.6L429.0,173.4ZM427.2,166.6L434.6,166.6L430.9,173.4ZM430.6,156.0L438.0,156.0L434.3,162.9ZM431.4,144.0L438.8,144.0L435.1,150.8ZM434.3,157.5L441.7,157.5L438.0,164.4ZM435.9,157.5L443.3,157.5L439.6,164.4ZM439.6,141.0L447.0,141.0L443.3,147.8ZM441.3,141.0L448.7,141.0L445.0,147.8ZM443.4,160.5L450.8,160.5L447.1,167.4ZM446.0,139.4L453.4,139.4L449.7,146.3ZM447.9,139.4L455.3,139.4L451.6,146.3ZM450.9,170.3L458.3,170.3L454.6,177.2ZM452.4,157.5L459.8,157.5L456.1,164.4ZM455.5,127.4L462.9,127.4L459.2,134.2ZM457.8,151.5L465.2,151.5L461.5,158.3ZM460.0,151.5L467.4,151.5L463.7,158.3ZM463.0,157.5L470.4,157.5L466.7,164.4ZM464.8,157.5L472.2,157.5L468.5,164.4ZM467.5,159.0L474.9,159.0L471.2,165.9ZM469.8,148.5L477.2,148.5L473.5,155.3ZM471.8,148.5L479.2,148.5L475.5,155.3ZM474.3,156.8L481.7,156.8L478.0,163.6ZM476.5,168.1L483.9,168.1L480.2,174.9ZM478.9,148.5L486.3,148.5L482.6,155.3ZM481.1,148.5L488.5,148.5L484.8,155.3ZM483.3,175.6L490.7,175.6L487.0,182.4ZM485.9,175.6L493.3,175.6L489.6,182.4ZM488.3,172.6L495.7,172.6L492.0,179.4ZM490.1,172.6L497.5,172.6L493.8,179.4ZM493.1,160.5L500.5,160.5L496.8,167.4ZM495.3,165.0L502.7,165.0L499.0,171.9ZM497.6,157.8L505.0,157.8L501.3,164.7ZM500.0,165.3L507.4,165.3L503.7,172.2ZM502.3,148.5L509.7,148.5L506.0,155.4ZM504.7,168.8L512.1,168.8L508.4,175.6ZM506.8,182.8L514.2,182.8L510.5,189.6ZM509.4,182.8L516.8,182.8L513.1,189.6ZM511.7,183.7L519.1,183.7L515.4,190.5ZM514.3,183.7L521.7,183.7L518.0,190.5ZM516.2,157.4L523.6,157.4L519.9,164.2ZM519.0,144.2L526.4,144.2L522.7,151.0Z" fill="#FF00FF"/>

</g>
<rect x="72" y="311.9" width="610" height="3.6" fill="#00FFFF"/>
<rect x="72" y="3" width="610" height="458" fill="none" stroke="#000" stroke-width="1.8"/><path d="M71.9,461V470.5M71.9,1.6V3M107.1,461V466.5M107.1,1.6V3M142.3,461V470.5M142.3,1.6V3M177.5,461V466.5M177.5,1.6V3M212.7,461V470.5M212.7,1.6V3M247.9,461V466.5M247.9,1.6V3M283.1,461V470.5M283.1,1.6V3M318.3,461V466.5M318.3,1.6V3M353.5,461V470.5M353.5,1.6V3M388.7,461V466.5M388.7,1.6V3M423.9,461V470.5M423.9,1.6V3M459.1,461V466.5M459.1,1.6V3M494.3,461V470.5M494.3,1.6V3M529.5,461V466.5M529.5,1.6V3M564.7,461V470.5M564.7,1.6V3M599.9,461V466.5M599.9,1.6V3M635.1,461V470.5M635.1,1.6V3M670.3,461V466.5M670.3,1.6V3M72,460.8H62.5M682,460.8H683.6M72,424.2H67M682,424.2H677M72,387.5H62.5M682,387.5H683.6M72,350.9H67M682,350.9H677M72,314.2H62.5M682,314.2H683.6M72,277.6H67M682,277.6H677M72,241.0H62.5M682,241.0H683.6M72,204.3H67M682,204.3H677M72,167.7H62.5M682,167.7H683.6M72,131.0H67M682,131.0H677M72,94.4H62.5M682,94.4H683.6M72,57.8H67M682,57.8H677M72,21.1H62.5M682,21.1H683.6" stroke="#000" stroke-width="1.7" fill="none"/>
<g font-family="'Liberation Sans', sans-serif" font-size="18" fill="#000">
<text x="71.9" y="489.5" text-anchor="middle">0</text><text x="142.3" y="489.5" text-anchor="middle">30</text><text x="212.7" y="489.5" text-anchor="middle">60</text><text x="283.1" y="489.5" text-anchor="middle">90</text><text x="353.5" y="489.5" text-anchor="middle">120</text><text x="423.9" y="489.5" text-anchor="middle">150</text><text x="494.3" y="489.5" text-anchor="middle">180</text><text x="564.7" y="489.5" text-anchor="middle">210</text><text x="635.1" y="489.5" text-anchor="middle">240</text><text x="58.0" y="466.0" text-anchor="end" font-size="17.6">0</text><text x="58.0" y="392.7" text-anchor="end" font-size="17.6">4</text><text x="58.0" y="319.4" text-anchor="end" font-size="17.6">8</text><text x="58.0" y="246.2" text-anchor="end" font-size="17.6">12</text><text x="58.0" y="172.9" text-anchor="end" font-size="17.6">16</text><text x="58.0" y="99.6" text-anchor="end" font-size="17.6">20</text><text x="58.0" y="26.3" text-anchor="end" font-size="17.6">24</text>
</g>
<text x="337" y="523.7" font-family="'Liberation Sans', sans-serif" font-size="22.5">Time (h)</text>
<g transform="translate(23.2,382) rotate(-90)" font-family="'Liberation Sans', sans-serif" font-size="21.7">
<text x="0" y="0"><tspan font-size="12.7" dy="-11.7">222</tspan><tspan dy="11.7">Rn concentration (Bq m</tspan><tspan font-size="12.7" dy="-11.7">-3</tspan><tspan dy="11.7">)</tspan></text>
</g>
<g font-family="'Liberation Sans', sans-serif" font-size="16.25" font-weight="bold" font-style="italic">
<text x="566.2" y="88.1">T<tspan font-size="11" dy="7" dx="-1.9">2</tspan><tspan dy="-7" dx="-0.25"> = 0.167 RT</tspan><tspan font-size="11" dy="7">1</tspan></text>
<text x="568.2" y="179.7">T<tspan font-size="11" dy="7" dx="-1.9">2</tspan><tspan dy="-7" dx="-0.25"> = 0.25 RT</tspan><tspan font-size="11" dy="7">1</tspan></text>
<text x="588.2" y="303.5">T<tspan font-size="11" dy="7" dx="-1.9">2</tspan><tspan dy="-7" dx="-0.25"> = 0.5 RT</tspan><tspan font-size="11" dy="7">1</tspan></text>
<text x="590.7" y="335.4">T<tspan font-size="11" dy="7" dx="-1.9">2</tspan><tspan dy="-7" dx="-0.25"> = RT</tspan><tspan font-size="11" dy="7">1</tspan></text>
<text x="592.2" y="406.9">T<tspan font-size="11" dy="7" dx="-1.9">2</tspan><tspan dy="-7" dx="-0.25"> = 2RT</tspan><tspan font-size="11" dy="7">1</tspan></text>
</g>
</svg>
</body></html>
